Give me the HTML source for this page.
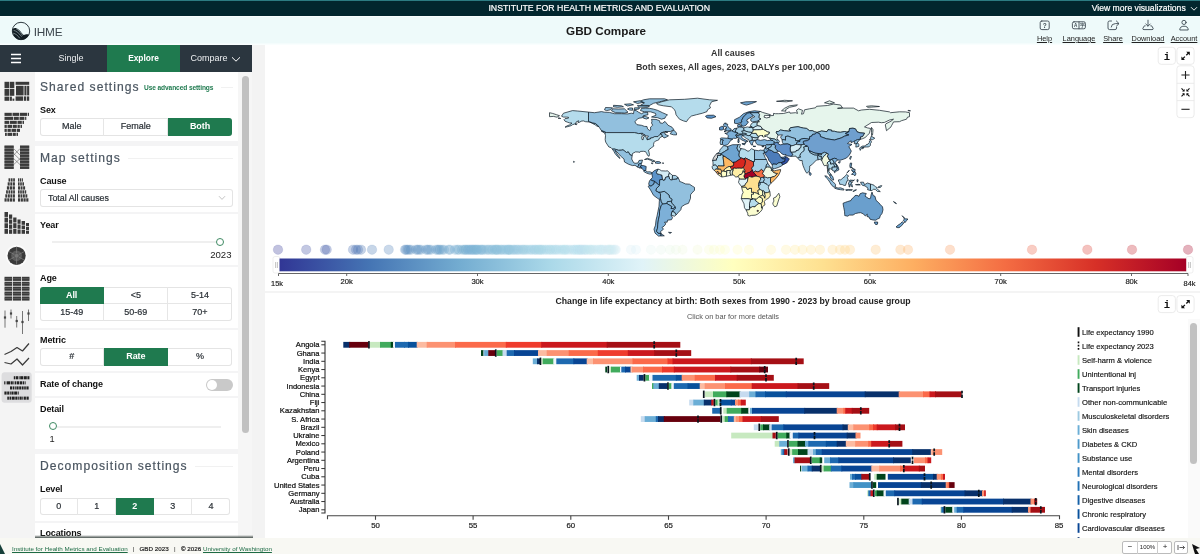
<!DOCTYPE html>
<html lang="en"><head><meta charset="utf-8"><title>GBD Compare</title>
<style>
*{box-sizing:border-box;margin:0;padding:0}
html,body{width:1200px;height:554px;overflow:hidden;background:#fff;font-family:"Liberation Sans",sans-serif;color:#222}
.abs{position:absolute}
#topline{position:absolute;left:0;top:0;width:1200px;height:1px;background:#2c7b82}
#topbar{position:absolute;left:0;top:1px;width:1200px;height:15px;background:#02262e;color:#fff}
#topbar .c{position:absolute;left:0;width:1198.4px;text-align:center;top:2px;font-size:8.77px;line-height:11px;-webkit-text-stroke:0.2px #fff}
#topbar .r{position:absolute;right:14.3px;top:1.5px;font-size:8.6px;line-height:11px;-webkit-text-stroke:0.2px #fff}
#header{position:absolute;left:0;top:16px;width:1200px;height:29px;background:#eefafa;box-shadow:inset 0 1px 0 #f9fefe,inset 0 -1.5px 0 #f9fefe}
#header .title{position:absolute;left:0;width:1212px;text-align:center;top:7px;font-size:11.7px;font-weight:bold;line-height:15px;color:#1a1a1a}
#header .ihme{position:absolute;left:33.7px;top:8.8px;font-size:11.8px;line-height:14px;color:#3c464d;letter-spacing:-0.2px}
.hbtn{position:absolute;top:0;text-align:center;font-size:7.4px;color:#222;text-decoration:underline;line-height:9px}
#nav{position:absolute;left:0;top:45px;width:252px;height:27px;background:#2b363f;color:#fff;font-size:9px}
#nav .tab{position:absolute;top:0;height:27px;line-height:27px;text-align:center}
#icons{position:absolute;left:0;top:72px;width:35px;height:466px;background:#f4f4f4}
#panel{position:absolute;left:35px;top:73px;width:203px;height:464px;background:#fff;overflow:hidden}
#gutter{position:absolute;left:252px;top:45px;width:13px;height:493px;background:#f3f3f3}
#lscroll{position:absolute;left:238px;top:72px;width:14px;height:466px;background:#f6f6f6}
#lscroll i{position:absolute;left:4px;top:4px;width:7px;height:357px;border-radius:4px;background:#c1c1c1}
.sec{position:absolute;left:5px;font-size:12.1px;letter-spacing:1.03px;color:#4a5560;line-height:14px;white-space:nowrap;-webkit-text-stroke:0.2px #4a5560}
.lbl{position:absolute;left:5px;font-size:9px;letter-spacing:-0.12px;font-weight:bold;color:#111;line-height:11px;white-space:nowrap}
.hr{position:absolute;left:0;width:203px;background:#f4f4f5}
.bg{position:absolute;left:5px;border-radius:3px;background:#fff;overflow:hidden;box-shadow:inset 0 0 0 1px #e4e4e4}
.bg span{position:absolute;text-align:center;font-size:9px;color:#2a3036;-webkit-text-stroke:0.2px #2a3036}
.bg i{position:absolute;background:#e6e6e6}
.bg span.on{background:#1f7a4f;color:#fff;font-weight:bold;-webkit-text-stroke:0;z-index:2;letter-spacing:-0.1px}
#footer{position:absolute;left:0;top:538px;width:1200px;height:16px;background:#f8f8f3;font-size:6.3px;color:#222;line-height:16px}
#footer .ft{position:absolute;top:3px;white-space:nowrap;line-height:16px;font-size:6.25px}
#footer .ft.b{-webkit-text-stroke:0.2px #222}
#footer a{color:#1d6b45;text-decoration:underline}
#main{position:absolute;left:265px;top:45px;width:935px;height:493px;background:#fff}
svg text{font-family:"Liberation Sans",sans-serif}
svg text.mono{font-family:"Liberation Mono",monospace}

</style></head><body>

<div id="topline"></div>
<div id="topbar"><div class="c">INSTITUTE FOR HEALTH METRICS AND EVALUATION</div><div class="r">View more visualizations</div>
<svg class="abs" style="left:1190px;top:5px" width="8" height="6" viewBox="0 0 8 6"><path d="M1 1.2 L4 4.2 L7 1.2" fill="none" stroke="#fff" stroke-width="0.9"/></svg></div>
<div id="header">
<svg class="abs" style="left:10.7px;top:5.2px" width="20" height="20" viewBox="0 0 20 20">
<circle cx="10" cy="10" r="8.7" fill="#eefafa" stroke="#1a262d" stroke-width="0.9"/>
<path d="M1.4 8.2 C2.6 7 4.4 6.6 6 7.4 C8.6 8.8 10.4 11.2 12 13.6 C13 14.4 14.6 13.2 16 13.2 C17 13.2 17.8 13.8 18.2 13 C17 16.6 13.8 18.8 10 18.8 C5 18.8 1 14.2 1.4 8.2 Z" fill="#111c22"/>
<path d="M2.6 9.4 C5.4 9.8 8.4 12.6 10.6 15.6 M2.2 12.2 C4.6 12.6 7 14.6 8.8 17.4 M5 7.6 C7.4 9 9.8 11.6 11.6 14.6" stroke="#cfe0e2" stroke-width="0.5" fill="none"/>
</svg>
<div class="ihme">IHME</div>
<div class="title">GBD Compare</div>
<svg class="abs" style="left:1039px;top:4px" width="12" height="11" viewBox="0 0 12 11"><rect x="1.2" y="1" width="9" height="8.6" rx="1.6" fill="none" stroke="#3d4a52" stroke-width="0.9" stroke-linecap="round" stroke-linejoin="round"/><text x="5.7" y="7.6" font-size="6.5" font-weight="bold" text-anchor="middle" fill="#3d4a52">?</text></svg>
<svg class="abs" style="left:1071px;top:4px" width="16" height="11" viewBox="0 0 16 11"><rect x="1.4" y="1.8" width="13" height="7" rx="1.6" fill="none" stroke="#3d4a52" stroke-width="0.9" stroke-linecap="round" stroke-linejoin="round"/><path d="M8 1.8V8.8" fill="none" stroke="#3d4a52" stroke-width="0.9" stroke-linecap="round" stroke-linejoin="round"/><text x="4.7" y="7.4" font-size="4.6" font-weight="bold" text-anchor="middle" fill="#3d4a52">A</text><text x="11.3" y="7.4" font-size="4.6" font-weight="bold" text-anchor="middle" fill="#3d4a52">字</text></svg>
<svg class="abs" style="left:1106px;top:3px" width="15" height="12" viewBox="0 0 15 12"><path d="M5.5 2 H3.6 Q2 2 2 3.6 V9 Q2 10.6 3.6 10.6 H9 Q10.6 10.6 10.6 9 V8.4" fill="none" stroke="#3d4a52" stroke-width="0.9" stroke-linecap="round" stroke-linejoin="round"/><path d="M5.2 8 Q5.4 4.6 9.4 4.6 H12.6 M10.4 2 L13 4.6 L10.4 7.2" fill="none" stroke="#3d4a52" stroke-width="0.9" stroke-linecap="round" stroke-linejoin="round"/></svg>
<svg class="abs" style="left:1141px;top:3px" width="14" height="12" viewBox="0 0 14 12"><path d="M7 1.2 V7 M4.8 5 L7 7.2 L9.2 5" fill="none" stroke="#3d4a52" stroke-width="0.9" stroke-linecap="round" stroke-linejoin="round"/><path d="M4.2 6.8 H3.4 L1.8 9.4 Q1.6 10.6 3 10.6 H11 Q12.4 10.6 12.2 9.4 L10.6 6.8 H9.8" fill="none" stroke="#3d4a52" stroke-width="0.9" stroke-linecap="round" stroke-linejoin="round"/></svg>
<svg class="abs" style="left:1178px;top:3px" width="12" height="12" viewBox="0 0 12 12"><circle cx="6" cy="3.4" r="2.1" fill="none" stroke="#3d4a52" stroke-width="0.9" stroke-linecap="round" stroke-linejoin="round"/><path d="M1.8 10.6 Q1.8 7.2 6 7.2 Q10.2 7.2 10.2 10.6 Z" fill="none" stroke="#3d4a52" stroke-width="0.9" stroke-linecap="round" stroke-linejoin="round"/></svg>
<div class="hbtn" style="left:1030px;width:29px;top:18px">Help</div>
<div class="hbtn" style="left:1059px;width:40px;top:18px">Language</div>
<div class="hbtn" style="left:1098px;width:30px;top:18px">Share</div>
<div class="hbtn" style="left:1128px;width:40px;top:18px">Download</div>
<div class="hbtn" style="left:1168px;width:32px;top:18px">Account</div>
</div>
<div id="nav">
<svg class="abs" style="left:10px;top:8px" width="12" height="11" viewBox="0 0 12 11"><path d="M1 1.5H11M1 5.5H11M1 9.5H11" stroke="#fff" stroke-width="1.3"/></svg>
<div class="tab" style="left:35px;width:72px;color:#eef0f2">Single</div>
<div class="tab" style="left:107px;width:73px;background:#1f7a4f;font-weight:bold;font-size:8.4px">Explore</div>
<div class="tab" style="left:180px;width:58px;color:#eef0f2">Compare</div>
<svg class="abs" style="left:231px;top:11px" width="10" height="7" viewBox="0 0 10 7"><path d="M1 1.3 L5 5.2 L9 1.3" fill="none" stroke="#fff" stroke-width="1"/></svg>
</div>
<div id="gutter"></div>
<div id="footer"><div class="ft" style="left:12px"><a>Institute for Health Metrics and Evaluation</a></div><div class="ft" style="left:132.6px">|</div><div class="ft b" style="left:139.5px">GBD 2023</div><div class="ft" style="left:174px">|</div><div class="ft b" style="left:181px">© 2026</div><div class="ft" style="left:203px"><a>University of Washington</a></div>
<svg class="abs" style="left:0;top:4px" width="9" height="12" viewBox="0 0 9 12"><path d="M0 2 L5 12 H0 Z" fill="#17403a"/></svg>
<div class="abs" style="left:1122px;top:3px;width:50px;height:13px;border:1px solid #bbb;border-radius:2px;background:#fff"></div>
<div class="abs" style="left:1137px;top:3px;width:1px;height:13px;background:#ccc"></div>
<div class="abs" style="left:1157px;top:3px;width:1px;height:13px;background:#ccc"></div>
<div class="abs" style="left:1126px;top:3px;width:8px;text-align:center;line-height:12px;font-size:8px">−</div>
<div class="abs" style="left:1138px;top:3px;width:19px;text-align:center;line-height:13px;font-size:6px">100%</div>
<div class="abs" style="left:1160px;top:3px;width:10px;text-align:center;line-height:12px;font-size:8px">+</div>
<div class="abs" style="left:1174px;top:3px;width:14px;height:13px;border:1px solid #bbb;border-radius:2px;background:#fff"></div>
<svg class="abs" style="left:1177px;top:6px" width="9" height="7" viewBox="0 0 9 7"><path d="M1 1V6M2.5 3.5H7.5M5.8 1.8L7.5 3.5L5.8 5.2" fill="none" stroke="#333" stroke-width="0.8"/></svg>
<svg class="abs" style="left:1191px;top:5px" width="9" height="11" viewBox="0 0 9 11"><path d="M1 1 L9 5 L5 6 L8 11 H4 L3 8 Z" fill="#111"/></svg>
</div>

<div id="icons"></div><svg class="abs" style="left:0;top:0" width="35" height="554" viewBox="0 0 35 554"><rect x="4.50" y="81.80" width="4.60" height="6.20" fill="#3a3a3a"/><rect x="9.70" y="81.80" width="4.60" height="6.20" fill="#3a3a3a"/><rect x="4.50" y="88.80" width="4.60" height="7.00" fill="#3a3a3a"/><rect x="9.70" y="88.80" width="4.60" height="7.00" fill="#3a3a3a"/><rect x="4.50" y="96.60" width="4.60" height="4.20" fill="#3a3a3a"/><rect x="9.70" y="96.60" width="2.20" height="4.20" fill="#3a3a3a"/><rect x="12.50" y="98.60" width="1.80" height="2.20" fill="#3a3a3a"/><rect x="15.60" y="81.80" width="13.60" height="3.00" fill="#3a3a3a"/><rect x="16.00" y="85.80" width="7.60" height="9.60" fill="#3a3a3a"/><rect x="24.40" y="85.80" width="2.10" height="9.60" fill="#3a3a3a"/><rect x="27.10" y="85.80" width="2.10" height="9.60" fill="#3a3a3a"/><rect x="15.60" y="96.40" width="7.60" height="4.40" fill="#3a3a3a"/><rect x="24.00" y="96.40" width="2.20" height="4.40" fill="#3a3a3a"/><rect x="26.90" y="96.40" width="2.30" height="4.40" fill="#3a3a3a"/><rect x="4.50" y="112.80" width="7.30" height="3.10" fill="#3a3a3a"/><rect x="12.50" y="112.80" width="6.80" height="3.10" fill="#3a3a3a"/><rect x="20.00" y="112.80" width="7.30" height="3.10" fill="#3a3a3a"/><rect x="28.00" y="112.80" width="1.00" height="3.10" fill="#3a3a3a"/><rect x="4.50" y="116.80" width="8.80" height="3.10" fill="#3a3a3a"/><rect x="14.00" y="116.80" width="4.80" height="3.10" fill="#3a3a3a"/><rect x="19.50" y="116.80" width="4.90" height="3.10" fill="#3a3a3a"/><rect x="25.10" y="116.80" width="1.20" height="3.10" fill="#3a3a3a"/><rect x="4.50" y="120.80" width="4.80" height="3.10" fill="#3a3a3a"/><rect x="10.00" y="120.80" width="6.80" height="3.10" fill="#3a3a3a"/><rect x="17.50" y="120.80" width="4.30" height="3.10" fill="#3a3a3a"/><rect x="22.50" y="120.80" width="1.50" height="3.10" fill="#3a3a3a"/><rect x="4.50" y="124.80" width="2.30" height="3.10" fill="#3a3a3a"/><rect x="7.50" y="124.80" width="4.80" height="3.10" fill="#3a3a3a"/><rect x="13.00" y="124.80" width="3.80" height="3.10" fill="#3a3a3a"/><rect x="17.50" y="124.80" width="2.30" height="3.10" fill="#3a3a3a"/><rect x="20.50" y="124.80" width="1.50" height="3.10" fill="#3a3a3a"/><rect x="4.50" y="128.80" width="2.30" height="3.10" fill="#3a3a3a"/><rect x="7.50" y="128.80" width="3.30" height="3.10" fill="#3a3a3a"/><rect x="11.50" y="128.80" width="4.80" height="3.10" fill="#3a3a3a"/><rect x="17.00" y="128.80" width="3.00" height="3.10" fill="#3a3a3a"/><rect x="5.00" y="132.80" width="1.80" height="3.10" fill="#3a3a3a"/><rect x="7.50" y="132.80" width="4.80" height="3.10" fill="#3a3a3a"/><rect x="13.00" y="132.80" width="2.80" height="3.10" fill="#3a3a3a"/><rect x="16.50" y="132.80" width="1.50" height="3.10" fill="#3a3a3a"/><rect x="4.50" y="145.60" width="9.20" height="2.30" fill="#3a3a3a"/><rect x="20.00" y="145.60" width="9.20" height="2.30" fill="#3a3a3a"/><rect x="4.50" y="148.60" width="9.20" height="2.30" fill="#3a3a3a"/><rect x="20.00" y="148.60" width="9.20" height="2.30" fill="#3a3a3a"/><rect x="4.50" y="151.60" width="9.20" height="2.30" fill="#3a3a3a"/><rect x="20.00" y="151.60" width="9.20" height="2.30" fill="#3a3a3a"/><rect x="4.50" y="154.60" width="9.20" height="2.30" fill="#3a3a3a"/><rect x="20.00" y="154.60" width="9.20" height="2.30" fill="#3a3a3a"/><rect x="4.50" y="157.60" width="9.20" height="2.30" fill="#3a3a3a"/><rect x="20.00" y="157.60" width="9.20" height="2.30" fill="#3a3a3a"/><rect x="4.50" y="160.60" width="9.20" height="2.30" fill="#3a3a3a"/><rect x="20.00" y="160.60" width="9.20" height="2.30" fill="#3a3a3a"/><rect x="4.50" y="163.60" width="9.20" height="2.30" fill="#3a3a3a"/><rect x="20.00" y="163.60" width="9.20" height="2.30" fill="#3a3a3a"/><rect x="4.50" y="166.60" width="9.20" height="2.30" fill="#3a3a3a"/><rect x="20.00" y="166.60" width="9.20" height="2.30" fill="#3a3a3a"/><rect x="4.50" y="145.60" width="9.20" height="23.30" fill="#3a3a3a88"/><rect x="20.00" y="145.60" width="9.20" height="23.30" fill="#3a3a3a88"/><path d="M13.7 148.6 L20 155.1 M13.7 155.1 L20 148.6 M13.7 158.6 L20 164.6 M13.7 164.6 L20 158.6 M13.7 153.6 L20 159.6" fill="none" stroke="#555" stroke-width="0.55"/><rect x="8.50" y="178.30" width="1.73" height="3.30" fill="#3a3a3a"/><rect x="18.00" y="178.30" width="1.23" height="3.30" fill="#3a3a3a"/><rect x="10.83" y="178.30" width="1.73" height="3.30" fill="#3a3a3a"/><rect x="19.83" y="178.30" width="1.23" height="3.30" fill="#3a3a3a"/><rect x="13.17" y="178.30" width="1.73" height="3.30" fill="#3a3a3a"/><rect x="21.67" y="178.30" width="1.23" height="3.30" fill="#3a3a3a"/><rect x="7.70" y="182.30" width="2.00" height="3.30" fill="#3a3a3a"/><rect x="18.00" y="182.30" width="1.60" height="3.30" fill="#3a3a3a"/><rect x="10.30" y="182.30" width="2.00" height="3.30" fill="#3a3a3a"/><rect x="20.20" y="182.30" width="1.60" height="3.30" fill="#3a3a3a"/><rect x="12.90" y="182.30" width="2.00" height="3.30" fill="#3a3a3a"/><rect x="22.40" y="182.30" width="1.60" height="3.30" fill="#3a3a3a"/><rect x="6.90" y="186.30" width="2.27" height="3.30" fill="#3a3a3a"/><rect x="18.00" y="186.30" width="1.97" height="3.30" fill="#3a3a3a"/><rect x="9.77" y="186.30" width="2.27" height="3.30" fill="#3a3a3a"/><rect x="20.57" y="186.30" width="1.97" height="3.30" fill="#3a3a3a"/><rect x="12.63" y="186.30" width="2.27" height="3.30" fill="#3a3a3a"/><rect x="23.13" y="186.30" width="1.97" height="3.30" fill="#3a3a3a"/><rect x="6.10" y="190.30" width="1.75" height="3.30" fill="#3a3a3a"/><rect x="18.00" y="190.30" width="1.60" height="3.30" fill="#3a3a3a"/><rect x="8.45" y="190.30" width="1.75" height="3.30" fill="#3a3a3a"/><rect x="20.20" y="190.30" width="1.60" height="3.30" fill="#3a3a3a"/><rect x="10.80" y="190.30" width="1.75" height="3.30" fill="#3a3a3a"/><rect x="22.40" y="190.30" width="1.60" height="3.30" fill="#3a3a3a"/><rect x="13.15" y="190.30" width="1.75" height="3.30" fill="#3a3a3a"/><rect x="24.60" y="190.30" width="1.60" height="3.30" fill="#3a3a3a"/><rect x="5.30" y="194.30" width="1.95" height="3.30" fill="#3a3a3a"/><rect x="18.00" y="194.30" width="1.88" height="3.30" fill="#3a3a3a"/><rect x="7.85" y="194.30" width="1.95" height="3.30" fill="#3a3a3a"/><rect x="20.48" y="194.30" width="1.88" height="3.30" fill="#3a3a3a"/><rect x="10.40" y="194.30" width="1.95" height="3.30" fill="#3a3a3a"/><rect x="22.95" y="194.30" width="1.88" height="3.30" fill="#3a3a3a"/><rect x="12.95" y="194.30" width="1.95" height="3.30" fill="#3a3a3a"/><rect x="25.43" y="194.30" width="1.88" height="3.30" fill="#3a3a3a"/><rect x="4.50" y="198.30" width="2.15" height="3.30" fill="#3a3a3a"/><rect x="18.00" y="198.30" width="2.15" height="3.30" fill="#3a3a3a"/><rect x="7.25" y="198.30" width="2.15" height="3.30" fill="#3a3a3a"/><rect x="20.75" y="198.30" width="2.15" height="3.30" fill="#3a3a3a"/><rect x="10.00" y="198.30" width="2.15" height="3.30" fill="#3a3a3a"/><rect x="23.50" y="198.30" width="2.15" height="3.30" fill="#3a3a3a"/><rect x="12.75" y="198.30" width="2.15" height="3.30" fill="#3a3a3a"/><rect x="26.25" y="198.30" width="2.15" height="3.30" fill="#3a3a3a"/><rect x="4.50" y="212.00" width="3.50" height="4.92" fill="#3a3a3a"/><rect x="4.50" y="217.62" width="3.50" height="4.92" fill="#3a3a3a"/><rect x="4.50" y="223.25" width="3.50" height="4.92" fill="#3a3a3a"/><rect x="4.50" y="228.88" width="3.50" height="4.92" fill="#3a3a3a"/><rect x="9.00" y="214.50" width="3.20" height="4.30" fill="#3a3a3a"/><rect x="9.00" y="219.50" width="3.20" height="4.30" fill="#3a3a3a"/><rect x="9.00" y="224.50" width="3.20" height="4.30" fill="#3a3a3a"/><rect x="9.00" y="229.50" width="3.20" height="4.30" fill="#3a3a3a"/><rect x="13.20" y="217.50" width="3.30" height="4.97" fill="#3a3a3a"/><rect x="13.20" y="223.17" width="3.30" height="4.97" fill="#3a3a3a"/><rect x="13.20" y="228.83" width="3.30" height="4.97" fill="#3a3a3a"/><rect x="17.50" y="219.50" width="3.10" height="4.30" fill="#3a3a3a"/><rect x="17.50" y="224.50" width="3.10" height="4.30" fill="#3a3a3a"/><rect x="17.50" y="229.50" width="3.10" height="4.30" fill="#3a3a3a"/><rect x="21.60" y="221.00" width="3.40" height="3.80" fill="#3a3a3a"/><rect x="21.60" y="225.50" width="3.40" height="3.80" fill="#3a3a3a"/><rect x="21.60" y="230.00" width="3.40" height="3.80" fill="#3a3a3a"/><rect x="26.00" y="223.00" width="3.00" height="3.13" fill="#3a3a3a"/><rect x="26.00" y="226.83" width="3.00" height="3.13" fill="#3a3a3a"/><rect x="26.00" y="230.67" width="3.00" height="3.13" fill="#3a3a3a"/><circle cx="16.6" cy="255.8" r="10.9" fill="#fbfbfb"/><circle cx="16.6" cy="255.8" r="9.1" fill="#3a3a3a"/><circle cx="16.6" cy="255.8" r="5.4" fill="#5c5c5c"/><circle cx="16.6" cy="255.8" r="2.4" fill="#777" stroke="#444" stroke-width="0.5"/><path d="M16.6 246.7V253.4M18.7 254.6L24.6 251.4M18.7 257L24.5 260.2M16.6 258.2V264.9M14.5 257L8.7 260.2M14.5 254.6L8.7 251.4" stroke="#8a8a8a" stroke-width="0.6" fill="none"/><rect x="4.50" y="276.80" width="7.70" height="4.10" fill="#3a3a3a"/><rect x="4.50" y="278.60" width="7.70" height="0.50" fill="#777"/><rect x="13.00" y="276.80" width="8.20" height="4.10" fill="#3a3a3a"/><rect x="13.00" y="278.60" width="8.20" height="0.50" fill="#777"/><rect x="22.00" y="276.80" width="7.50" height="4.10" fill="#3a3a3a"/><rect x="22.00" y="278.60" width="7.50" height="0.50" fill="#777"/><rect x="4.50" y="281.72" width="7.70" height="4.10" fill="#3a3a3a"/><rect x="4.50" y="283.52" width="7.70" height="0.50" fill="#777"/><rect x="13.00" y="281.72" width="8.20" height="4.10" fill="#3a3a3a"/><rect x="13.00" y="283.52" width="8.20" height="0.50" fill="#777"/><rect x="22.00" y="281.72" width="7.50" height="4.10" fill="#3a3a3a"/><rect x="22.00" y="283.52" width="7.50" height="0.50" fill="#777"/><rect x="4.50" y="286.64" width="7.70" height="4.10" fill="#3a3a3a"/><rect x="4.50" y="288.44" width="7.70" height="0.50" fill="#777"/><rect x="13.00" y="286.64" width="8.20" height="4.10" fill="#3a3a3a"/><rect x="13.00" y="288.44" width="8.20" height="0.50" fill="#777"/><rect x="22.00" y="286.64" width="7.50" height="4.10" fill="#3a3a3a"/><rect x="22.00" y="288.44" width="7.50" height="0.50" fill="#777"/><rect x="4.50" y="291.56" width="7.70" height="4.10" fill="#3a3a3a"/><rect x="4.50" y="293.36" width="7.70" height="0.50" fill="#777"/><rect x="13.00" y="291.56" width="8.20" height="4.10" fill="#3a3a3a"/><rect x="13.00" y="293.36" width="8.20" height="0.50" fill="#777"/><rect x="22.00" y="291.56" width="7.50" height="4.10" fill="#3a3a3a"/><rect x="22.00" y="293.36" width="7.50" height="0.50" fill="#777"/><rect x="4.50" y="296.48" width="7.70" height="4.10" fill="#3a3a3a"/><rect x="4.50" y="298.28" width="7.70" height="0.50" fill="#777"/><rect x="13.00" y="296.48" width="8.20" height="4.10" fill="#3a3a3a"/><rect x="13.00" y="298.28" width="8.20" height="0.50" fill="#777"/><rect x="22.00" y="296.48" width="7.50" height="4.10" fill="#3a3a3a"/><rect x="22.00" y="298.28" width="7.50" height="0.50" fill="#777"/><path d="M5 310.5V327.7M11 309.5V318.5M16.7 316V327.5M22.5 311V334M28.5 309.5V321" stroke="#555" stroke-width="0.8"/><rect x="3.90" y="316.40" width="2.20" height="2.20" fill="#444"/><rect x="9.90" y="312.40" width="2.20" height="2.20" fill="#444"/><rect x="15.60" y="319.90" width="2.20" height="2.20" fill="#444"/><rect x="21.40" y="320.90" width="2.20" height="2.20" fill="#444"/><rect x="27.40" y="312.40" width="2.20" height="2.20" fill="#444"/><path d="M4.5 354.5L11 351.5L17 347.5L22.5 351L29 343.5" stroke="#3a3a3a" stroke-width="1.2" fill="none" stroke-linejoin="round"/><path d="M4.5 362.5L11 364L17 359L22.5 365L29 358" stroke="#3a3a3a" stroke-width="1.2" fill="none" stroke-linejoin="round"/><rect x="1.6" y="372.3" width="30.1" height="30.5" rx="3" fill="#dddddf"/><rect x="13.80" y="376.20" width="1.60" height="3.10" fill="#222"/><rect x="16.00" y="376.20" width="2.20" height="3.10" fill="#222"/><rect x="18.80" y="376.20" width="0.80" height="3.10" fill="#222"/><rect x="20.20" y="376.20" width="3.00" height="3.10" fill="#222"/><rect x="23.80" y="376.20" width="3.00" height="3.10" fill="#222"/><rect x="27.40" y="376.20" width="1.60" height="3.10" fill="#222"/><rect x="29.60" y="376.20" width="0.40" height="3.10" fill="#222"/><rect x="4.20" y="381.30" width="0.80" height="3.10" fill="#222"/><rect x="5.60" y="381.30" width="0.80" height="3.10" fill="#222"/><rect x="7.00" y="381.30" width="3.00" height="3.10" fill="#222"/><rect x="10.60" y="381.30" width="2.20" height="3.10" fill="#222"/><rect x="13.40" y="381.30" width="0.80" height="3.10" fill="#222"/><rect x="14.80" y="381.30" width="1.60" height="3.10" fill="#222"/><rect x="17.00" y="381.30" width="2.20" height="3.10" fill="#222"/><rect x="19.80" y="381.30" width="2.20" height="3.10" fill="#222"/><rect x="22.60" y="381.30" width="1.60" height="3.10" fill="#222"/><rect x="24.80" y="381.30" width="0.80" height="3.10" fill="#222"/><rect x="10.00" y="386.40" width="2.20" height="3.10" fill="#222"/><rect x="12.80" y="386.40" width="1.60" height="3.10" fill="#222"/><rect x="15.00" y="386.40" width="0.80" height="3.10" fill="#222"/><rect x="16.40" y="386.40" width="2.20" height="3.10" fill="#222"/><rect x="19.20" y="386.40" width="2.20" height="3.10" fill="#222"/><rect x="22.00" y="386.40" width="1.60" height="3.10" fill="#222"/><rect x="24.20" y="386.40" width="1.60" height="3.10" fill="#222"/><rect x="26.40" y="386.40" width="2.20" height="3.10" fill="#222"/><rect x="4.40" y="391.50" width="2.20" height="3.10" fill="#222"/><rect x="7.20" y="391.50" width="2.20" height="3.10" fill="#222"/><rect x="10.00" y="391.50" width="0.80" height="3.10" fill="#222"/><rect x="11.40" y="391.50" width="2.20" height="3.10" fill="#222"/><rect x="14.20" y="391.50" width="3.00" height="3.10" fill="#222"/><rect x="17.80" y="391.50" width="0.90" height="3.10" fill="#222"/><rect x="7.30" y="396.60" width="1.60" height="3.10" fill="#222"/><rect x="9.50" y="396.60" width="1.60" height="3.10" fill="#222"/><rect x="11.70" y="396.60" width="3.00" height="3.10" fill="#222"/><rect x="15.30" y="396.60" width="2.20" height="3.10" fill="#222"/><rect x="18.10" y="396.60" width="0.80" height="3.10" fill="#222"/><rect x="19.50" y="396.60" width="2.20" height="3.10" fill="#222"/><rect x="22.30" y="396.60" width="0.80" height="3.10" fill="#222"/><rect x="23.70" y="396.60" width="2.20" height="3.10" fill="#222"/><rect x="26.50" y="396.60" width="2.20" height="3.10" fill="#222"/></svg><div id="lscroll"><i></i></div><div id="panel"><div class="sec" style="top:7px">Shared settings</div><div class="abs" style="left:109px;top:10px;font-size:6.6px;font-weight:bold;color:#1f7a4f;line-height:9px;white-space:nowrap;letter-spacing:-0.1px">Use advanced settings</div><div class="abs" style="left:186px;top:14px;width:12px;height:1px;background:#f1f1f1"></div><div class="lbl" style="top:31.5px">Sex</div><div class="bg" style="top:45px;left:4.6px;width:192.5px;height:17.5px"><span style="left:0.00px;top:0.00px;width:64.17px;height:17.50px;line-height:17.50px">Male</span><span style="left:64.17px;top:0.00px;width:64.17px;height:17.50px;line-height:17.50px">Female</span><span class="on" style="left:128.33px;top:0.00px;width:64.17px;height:17.50px;line-height:17.50px">Both</span><i style="left:63.67px;top:0;width:1px;height:17.5px"></i><i style="left:127.83px;top:0;width:1px;height:17.5px"></i></div><div class="hr" style="top:68px;height:5px"></div><div class="sec" style="top:78px">Map settings</div><div class="abs" style="left:93px;top:85px;width:105px;height:1px;background:#f1f1f1"></div><div class="lbl" style="top:103px">Cause</div><div class="bg" style="top:116px;width:193px;height:18px"></div><div class="abs" style="left:13px;top:119px;font-size:8.85px;line-height:12px;color:#2a3036;-webkit-text-stroke:0.2px #2a3036">Total All causes</div><svg class="abs" style="left:183px;top:122px" width="8" height="6" viewBox="0 0 8 6"><path d="M1 1.2L4 4.4L7 1.2" fill="none" stroke="#b5b5b5" stroke-width="0.8"/></svg><div class="hr" style="top:139px;height:2px"></div><div class="lbl" style="top:146.5px">Year</div><div class="abs" style="left:17px;top:168px;width:164px;height:2px;background:#efefef"></div><div class="abs" style="left:181px;top:164.5px;width:8px;height:8px;border:1.2px solid #3f8a63;border-radius:50%;background:#fff"></div><div class="abs" style="left:150px;width:46.5px;text-align:right;top:175.5px;font-size:9.6px;line-height:12px">2023</div><div class="hr" style="top:192px;height:2px"></div><div class="lbl" style="top:199.5px">Age</div><div class="bg" style="top:213.60000000000002px;left:4.6px;width:192.5px;height:34.4px"><span class="on" style="left:0.00px;top:0.00px;width:64.17px;height:17.20px;line-height:17.20px">All</span><span style="left:64.17px;top:0.00px;width:64.17px;height:17.20px;line-height:17.20px">&lt;5</span><span style="left:128.33px;top:0.00px;width:64.17px;height:17.20px;line-height:17.20px">5-14</span><span style="left:0.00px;top:17.20px;width:64.17px;height:17.20px;line-height:17.20px">15-49</span><span style="left:64.17px;top:17.20px;width:64.17px;height:17.20px;line-height:17.20px">50-69</span><span style="left:128.33px;top:17.20px;width:64.17px;height:17.20px;line-height:17.20px">70+</span><i style="left:63.67px;top:0;width:1px;height:34.4px"></i><i style="left:127.83px;top:0;width:1px;height:34.4px"></i><i style="left:0;top:16.70px;width:192.5px;height:1px"></i></div><div class="hr" style="top:255px;height:2px"></div><div class="lbl" style="top:262px">Metric</div><div class="bg" style="top:275.4px;left:4.6px;width:192.5px;height:17.6px"><span style="left:0.00px;top:0.00px;width:64.17px;height:17.60px;line-height:17.60px">#</span><span class="on" style="left:64.17px;top:0.00px;width:64.17px;height:17.60px;line-height:17.60px">Rate</span><span style="left:128.33px;top:0.00px;width:64.17px;height:17.60px;line-height:17.60px">%</span><i style="left:63.67px;top:0;width:1px;height:17.6px"></i><i style="left:127.83px;top:0;width:1px;height:17.6px"></i></div><div class="hr" style="top:298px;height:2px"></div><div class="lbl" style="top:306px">Rate of change</div><div class="abs" style="left:170.5px;top:305.5px;width:27.5px;height:12.5px;border-radius:7px;background:#c9c9c9"></div><div class="abs" style="left:171.5px;top:306.5px;width:10.5px;height:10.5px;border-radius:50%;background:#fff"></div><div class="hr" style="top:323px;height:2px"></div><div class="lbl" style="top:330.5px">Detail</div><div class="abs" style="left:22px;top:352.5px;width:164px;height:2px;background:#efefef"></div><div class="abs" style="left:13.5px;top:349px;width:8px;height:8px;border:1.2px solid #3f8a63;border-radius:50%;background:#fff"></div><div class="abs" style="left:14.5px;top:360px;font-size:9.3px;line-height:12px">1</div><div class="hr" style="top:376px;height:5px"></div><div class="sec" style="top:386px">Decomposition settings</div><div class="abs" style="left:160px;top:393px;width:38px;height:1px;background:#f1f1f1"></div><div class="lbl" style="top:410.5px">Level</div><div class="bg" style="top:424.6px;left:4.6px;width:190.4px;height:17.1px"><span style="left:0.00px;top:0.00px;width:38.08px;height:17.10px;line-height:17.10px">0</span><span style="left:38.08px;top:0.00px;width:38.08px;height:17.10px;line-height:17.10px">1</span><span class="on" style="left:76.16px;top:0.00px;width:38.08px;height:17.10px;line-height:17.10px">2</span><span style="left:114.24px;top:0.00px;width:38.08px;height:17.10px;line-height:17.10px">3</span><span style="left:152.32px;top:0.00px;width:38.08px;height:17.10px;line-height:17.10px">4</span><i style="left:37.58px;top:0;width:1px;height:17.1px"></i><i style="left:75.66px;top:0;width:1px;height:17.1px"></i><i style="left:113.74px;top:0;width:1px;height:17.1px"></i><i style="left:151.82px;top:0;width:1px;height:17.1px"></i></div><div class="hr" style="top:447.5px;height:2px"></div><div class="lbl" style="top:454.5px">Locations</div></div><div class="abs" style="left:35px;top:535px;width:217.5px;height:3px;background:linear-gradient(rgba(60,70,66,0),rgba(60,70,66,0.55) 55%,#4a5551)"></div>
<div id="main">
<svg class="abs" style="left:0;top:0" width="935" height="247" viewBox="265 45 935 247">
<defs><linearGradient id="rybu" x1="0" x2="1" y1="0" y2="0"><stop offset="0%" stop-color="#313695"/><stop offset="10%" stop-color="#4575b4"/><stop offset="20%" stop-color="#74add1"/><stop offset="30%" stop-color="#abd9e9"/><stop offset="40%" stop-color="#e0f3f8"/><stop offset="50%" stop-color="#ffffbf"/><stop offset="60%" stop-color="#fee090"/><stop offset="70%" stop-color="#fdae61"/><stop offset="80%" stop-color="#f46d43"/><stop offset="90%" stop-color="#d73027"/><stop offset="100%" stop-color="#a50026"/></linearGradient></defs>
<text x="733" y="56.4" font-size="8.85" font-weight="bold" text-anchor="middle" fill="#333">All causes</text>
<text x="733" y="70.1" font-size="8.85" font-weight="bold" text-anchor="middle" fill="#333">Both sexes, All ages, 2023, DALYs per 100,000</text>
<g stroke="#04101a" stroke-width="0.68" stroke-linejoin="round">
<path d="M561.5 116.2 L563.5 113.2 L572.5 110.6 L577.5 111.0 L588.5 112.1 L588.5 121.4 L592.5 122.8 L595.5 123.5 L599.0 126.7 L597.0 126.2 L595.0 124.7 L592.5 123.5 L589.5 122.0 L585.5 121.7 L583.5 120.9 L581.0 121.2 L580.0 122.1 L578.0 122.5 L578.5 120.7 L576.0 122.2 L575.5 123.7 L572.5 124.7 L571.0 125.7 L567.5 126.7 L565.0 127.2 L567.0 125.9 L569.5 124.9 L572.0 123.1 L569.5 122.9 L567.5 122.2 L565.0 121.2 L564.0 119.7 L565.0 118.7 L568.5 118.1 L568.5 117.3 L566.5 117.1 L563.5 117.1 L561.5 116.2Z" fill="#b5dcec"/>
<path d="M558.0 118.2 L560.7 118.5 L559.5 118.0Z" fill="#b5dcec"/>
<path d="M575.0 124.2 L577.2 123.7 L576.5 124.7Z" fill="#b5dcec"/>
<path d="M588.5 112.1 L594.5 112.7 L601.5 111.6 L604.5 112.2 L609.5 112.4 L614.5 113.7 L621.5 113.7 L627.5 113.9 L631.5 113.2 L633.5 113.7 L634.0 110.0 L636.5 110.8 L638.5 112.2 L641.5 113.7 L644.5 112.2 L647.5 112.2 L648.0 114.7 L643.5 115.7 L642.5 117.7 L639.0 118.2 L637.5 118.9 L635.0 121.7 L635.5 123.0 L637.0 124.7 L641.5 125.3 L644.5 126.4 L647.0 126.5 L647.5 128.8 L649.5 130.4 L650.7 129.9 L650.5 127.2 L652.7 125.2 L651.5 123.0 L652.0 121.2 L651.5 119.3 L656.0 119.4 L659.5 120.7 L660.0 122.9 L662.5 123.3 L665.0 121.4 L668.0 125.2 L672.0 127.2 L673.8 129.5 L670.5 131.5 L664.5 131.5 L662.5 132.4 L660.0 133.8 L661.5 132.8 L665.0 132.6 L665.0 134.3 L668.5 135.8 L666.5 137.0 L664.0 138.0 L663.0 136.6 L662.1 136.4 L661.7 134.6 L660.3 134.2 L658.0 136.6 L654.7 136.6 L653.0 137.6 L650.5 138.1 L650.5 138.9 L647.0 139.8 L647.2 137.8 L648.5 136.1 L646.5 135.8 L645.0 135.2 L642.5 133.4 L641.0 133.4 L638.5 133.6 L634.5 132.6 L606.3 132.6 L604.5 131.7 L601.5 130.7 L599.5 127.7 L599.0 126.7 L595.5 123.5 L592.5 122.8 L588.5 121.4Z" fill="#92c0de"/>
<path d="M649.5 108.3 L653.5 109.1 L657.5 110.3 L662.5 112.7 L667.5 114.9 L665.5 116.7 L665.0 118.2 L661.5 119.2 L657.5 117.7 L651.5 117.0 L656.0 115.2 L655.5 113.4 L650.5 111.8 L644.5 111.8 L640.5 110.6 L641.5 108.3 L645.5 108.1 L649.5 108.3Z" fill="#92c0de"/>
<path d="M612.5 108.8 L618.5 109.0 L624.5 108.8 L628.0 112.2 L624.5 113.1 L621.5 112.9 L615.5 112.7 L611.5 110.8 L612.5 108.8Z" fill="#92c0de"/>
<path d="M639.5 101.3 L643.5 99.8 L649.5 98.8 L664.5 98.8 L667.5 99.8 L659.5 101.8 L653.5 103.3 L649.5 105.5 L640.5 105.3 L644.5 102.8 L639.5 101.3Z" fill="#92c0de"/>
<path d="M604.5 109.8 L605.5 107.5 L612.5 107.8 L610.5 109.8 L606.5 110.6Z" fill="#92c0de"/>
<path d="M637.5 105.3 L649.5 106.2 L647.5 107.3 L638.5 107.1Z" fill="#92c0de"/>
<path d="M613.5 106.8 L613.5 105.3 L621.5 105.8 L623.5 106.8 L617.5 107.3Z" fill="#92c0de"/>
<path d="M629.5 108.0 L632.5 108.0 L632.5 110.3 L629.5 110.0 L627.5 109.0Z" fill="#92c0de"/>
<path d="M634.5 107.8 L639.5 107.8 L639.0 109.0 L634.0 109.8Z" fill="#92c0de"/>
<path d="M633.5 101.8 L639.5 100.8 L643.5 102.3 L637.5 103.5 L633.5 101.8Z" fill="#92c0de"/>
<path d="M624.5 104.3 L630.5 103.8 L633.5 104.8 L627.5 106.0Z" fill="#92c0de"/>
<path d="M643.0 116.2 L645.5 116.4 L649.0 117.9 L646.5 119.0 L643.5 118.2Z" fill="#92c0de"/>
<path d="M670.2 133.8 L672.5 130.7 L674.0 130.2 L676.5 133.1 L676.5 134.9 L673.5 134.8 L670.2 133.8Z" fill="#92c0de"/>
<path d="M601.2 130.9 L604.5 131.7 L606.0 133.2 L604.0 132.8Z" fill="#92c0de"/>
<path d="M665.0 131.7 L667.7 132.4 L666.5 132.5Z" fill="#92c0de"/>
<path d="M606.3 132.6 L634.5 132.6 L638.5 133.6 L641.0 133.4 L642.5 133.4 L641.5 134.8 L644.7 135.0 L641.7 136.6 L642.0 139.6 L643.2 139.6 L643.5 137.1 L645.0 135.9 L646.0 136.6 L646.0 137.8 L647.0 138.6 L647.0 139.8 L650.5 138.9 L650.5 138.1 L653.0 137.6 L654.7 136.6 L658.0 136.6 L660.3 134.2 L661.7 134.6 L662.1 136.4 L659.5 137.9 L658.8 139.8 L657.5 140.4 L655.5 141.0 L654.0 142.6 L653.5 144.6 L653.8 146.1 L651.5 147.7 L648.5 150.1 L649.5 154.5 L649.0 156.3 L647.7 155.5 L646.7 153.5 L645.5 151.6 L643.5 151.3 L640.5 151.4 L640.0 152.3 L638.0 152.0 L635.5 151.9 L632.5 153.5 L632.2 155.5 L630.2 155.0 L628.3 151.9 L626.5 152.5 L624.7 151.1 L623.0 149.8 L621.3 150.2 L618.5 150.3 L614.7 149.1 L612.4 149.1 L611.0 147.6 L608.9 147.0 L607.5 144.9 L605.7 142.1 L605.2 139.6 L605.5 135.4 L604.8 133.2 L606.3 132.6Z" fill="#b5dcec"/>
<path d="M573.5 161.3 L574.5 161.7 L573.8 162.5Z" fill="#b5dcec"/>
<path d="M612.4 149.1 L614.7 149.1 L618.5 150.3 L621.3 150.2 L623.0 149.8 L624.7 151.1 L626.5 152.5 L628.3 151.9 L630.2 155.0 L632.2 155.5 L631.7 159.0 L633.5 162.5 L635.0 163.3 L638.0 163.0 L639.0 160.5 L642.5 160.0 L641.7 163.2 L640.3 163.6 L638.5 164.3 L639.0 165.4 L637.3 166.9 L635.0 165.3 L632.5 165.6 L628.5 164.2 L624.5 162.0 L624.0 159.0 L620.5 156.0 L617.0 152.0 L614.8 150.1 L617.0 154.0 L619.5 157.3 L620.0 158.5 L617.5 156.5 L615.0 153.5 L614.0 151.6 L612.4 149.1Z" fill="#92c0de"/>
<path d="M637.3 166.9 L639.0 165.4 L638.5 164.3 L640.3 163.6 L641.2 163.1 L641.2 165.5 L640.3 167.1 L639.5 167.8 L637.3 166.9Z" fill="#7db0d8"/>
<path d="M639.5 167.8 L640.3 167.1 L641.8 167.7 L641.7 168.3Z" fill="#b5dcec"/>
<path d="M640.3 167.1 L641.2 165.5 L643.5 165.6 L646.2 166.5 L645.8 170.5 L643.8 170.5 L642.0 168.5 L641.8 167.7Z" fill="#5b93c9"/>
<path d="M645.8 170.5 L646.9 171.9 L650.0 171.8 L652.1 172.7 L651.5 174.1 L649.5 174.1 L646.5 173.1 L643.8 171.5 L643.8 170.5Z" fill="#92c0de"/>
<path d="M644.5 159.5 L647.5 158.3 L652.5 160.0 L655.3 161.3 L652.0 161.6 L651.5 160.5 L647.5 159.2 L644.5 159.5Z" fill="#b5dcec"/>
<path d="M655.0 163.0 L656.5 161.5 L659.5 161.7 L661.1 162.9 L658.5 163.5 L655.0 163.0Z" fill="#7db0d8"/>
<path d="M651.2 163.1 L653.2 163.1 L652.5 163.7Z" fill="#a5cfe6"/>
<path d="M662.3 163.0 L663.8 163.1 L663.0 163.6Z" fill="#a5cfe6"/>
<path d="M656.5 103.6 L661.5 101.8 L669.5 99.8 L684.5 99.3 L697.5 98.2 L709.5 99.8 L717.5 100.3 L711.5 101.8 L709.5 105.8 L710.5 107.8 L707.5 109.8 L707.0 111.6 L702.5 113.2 L696.5 114.7 L691.5 116.0 L688.5 118.7 L686.5 121.7 L683.5 120.9 L679.5 119.2 L677.5 116.7 L676.0 114.7 L675.5 111.8 L674.5 109.8 L671.5 106.8 L663.5 105.8 L658.5 104.8 L656.5 103.6Z" fill="#b5dcec"/>
<path d="M705.5 116.2 L707.5 115.3 L713.5 115.2 L716.0 116.7 L711.5 118.3 L707.0 117.9 L705.5 116.2Z" fill="#5b93c9"/>
<path d="M652.1 172.7 L654.5 170.5 L658.0 169.1 L657.5 170.5 L656.5 172.4 L657.2 173.9 L659.5 174.4 L662.0 175.2 L662.5 179.4 L659.7 179.9 L659.5 185.6 L657.5 183.9 L654.5 181.4 L652.0 180.6 L650.5 179.7 L652.5 177.4 L652.0 174.4 L652.1 172.7Z" fill="#5b93c9"/>
<path d="M658.0 169.1 L659.5 169.5 L661.5 170.8 L665.5 171.0 L667.7 170.8 L669.5 172.9 L668.5 175.4 L668.8 176.4 L665.5 177.4 L665.0 179.9 L663.0 180.4 L662.5 179.4 L662.0 175.2 L659.5 174.4 L657.2 173.9 L656.5 172.4 L657.5 170.5 L658.0 169.1Z" fill="#d5edf5"/>
<path d="M669.5 172.9 L672.5 175.4 L672.3 179.4 L671.0 180.1 L669.5 178.9 L668.8 176.4 L668.5 175.4 L669.5 172.9Z" fill="#d5edf5"/>
<path d="M672.5 175.4 L675.5 175.5 L677.8 177.2 L677.0 179.1 L673.5 179.4 L672.3 179.4Z" fill="#a5cfe6"/>
<path d="M650.5 179.7 L652.0 180.6 L654.5 181.4 L654.0 183.9 L651.0 186.2 L649.2 185.7 L648.7 183.7 L649.5 180.9 L650.5 179.7Z" fill="#6ea4d1"/>
<path d="M649.2 185.7 L651.0 186.2 L654.0 183.9 L654.5 181.4 L657.5 183.9 L659.5 185.6 L656.5 188.4 L656.0 190.9 L659.0 192.3 L660.5 193.8 L660.5 196.8 L659.5 199.6 L657.5 198.3 L653.5 195.3 L650.5 189.9 L648.2 186.4 L649.2 185.7Z" fill="#7db0d8"/>
<path d="M663.0 180.4 L665.0 179.9 L665.5 177.4 L668.8 176.4 L669.5 178.9 L671.0 180.1 L673.5 179.4 L677.0 179.1 L677.8 177.2 L679.5 180.4 L679.5 181.4 L681.5 182.1 L685.5 183.9 L689.5 184.2 L692.5 186.2 L694.5 187.4 L694.5 190.4 L692.0 192.8 L690.5 194.8 L690.5 198.3 L688.5 203.3 L685.0 204.5 L681.5 206.8 L680.8 209.8 L678.5 212.2 L676.1 214.9 L674.5 212.2 L671.9 211.4 L675.5 208.3 L674.9 206.8 L674.0 205.3 L671.7 203.3 L671.5 201.3 L672.0 199.3 L669.5 197.5 L669.0 195.0 L664.2 191.3 L661.0 192.3 L659.0 192.3 L656.0 190.9 L656.5 188.4 L659.5 185.6 L659.7 179.9 L662.5 179.4 L663.0 180.4Z" fill="#92c0de"/>
<path d="M660.5 193.8 L659.0 192.3 L661.0 192.3 L664.2 191.3 L669.0 195.0 L669.5 197.5 L672.0 199.3 L671.5 201.3 L667.5 201.6 L666.8 203.5 L662.5 204.1 L661.0 201.3 L660.5 198.8 L660.5 196.8 L660.5 193.8Z" fill="#92c0de"/>
<path d="M667.5 201.6 L671.5 201.3 L671.7 203.3 L674.0 205.3 L674.9 206.8 L673.5 208.6 L670.9 208.5 L671.9 206.6 L666.8 203.5 L667.5 201.6Z" fill="#92c0de"/>
<path d="M671.9 211.4 L674.5 212.2 L676.1 214.9 L674.5 216.2 L671.1 215.2 L671.9 211.4Z" fill="#b5dcec"/>
<path d="M659.5 199.6 L660.5 198.8 L661.0 201.3 L662.5 204.1 L661.1 205.8 L659.5 211.2 L659.5 215.2 L658.5 219.2 L657.8 224.2 L657.5 228.2 L656.5 231.2 L658.0 233.1 L661.1 233.5 L660.9 235.9 L658.5 236.1 L655.0 233.1 L654.0 229.2 L655.5 225.2 L656.0 220.2 L657.0 216.2 L658.0 211.2 L659.0 206.3 L659.3 201.3 L659.5 199.6Z" fill="#7db0d8"/>
<path d="M662.5 204.1 L666.8 203.5 L671.9 206.6 L670.9 208.5 L673.5 208.6 L674.9 206.8 L675.5 208.3 L671.9 211.4 L671.1 215.2 L672.5 217.7 L671.5 219.7 L667.5 220.2 L667.2 222.2 L664.5 222.2 L665.8 223.9 L664.0 226.2 L662.0 227.5 L663.5 229.2 L660.5 231.6 L661.1 233.5 L658.0 233.1 L656.5 231.2 L657.5 228.2 L657.8 224.2 L658.5 219.2 L659.5 215.2 L659.5 211.2 L661.1 205.8 L662.5 204.1Z" fill="#7db0d8"/>
<path d="M660.9 233.7 L664.3 235.8 L660.9 236.0Z" fill="#7db0d8"/>
<path d="M668.5 232.3 L671.5 232.5 L670.0 233.4Z" fill="#a5cfe6"/>
<path d="M734.5 123.2 L734.5 119.7 L739.5 117.2 L743.5 113.7 L748.5 111.8 L754.5 110.7 L760.5 111.5 L758.0 112.7 L755.0 112.7 L750.0 112.7 L747.5 113.2 L744.5 115.7 L743.0 117.7 L741.5 120.7 L742.0 121.9 L740.5 122.7 L737.0 123.7 L734.5 123.2Z" fill="#6ea4d1"/>
<path d="M740.5 122.7 L742.0 121.9 L741.5 120.7 L743.0 117.7 L744.5 115.7 L747.5 113.2 L750.0 112.7 L753.5 115.7 L751.0 117.2 L747.0 119.7 L746.8 121.2 L748.5 121.9 L746.0 125.2 L743.8 126.2 L742.3 126.2 L740.8 123.7 L740.5 122.7Z" fill="#6ea4d1"/>
<path d="M750.0 112.7 L755.0 112.7 L758.0 112.7 L759.5 114.2 L759.0 117.7 L761.0 118.9 L757.5 121.2 L752.5 121.8 L750.8 120.9 L750.8 118.7 L754.8 116.7 L753.5 115.7 L750.0 112.7Z" fill="#92c0de"/>
<path d="M740.5 102.8 L745.5 101.8 L756.5 101.6 L751.5 103.6 L746.5 105.1 L743.5 104.3 L740.5 102.8Z" fill="#6ea4d1"/>
<path d="M737.7 126.7 L737.7 124.7 L740.0 124.0 L740.3 125.7 L742.0 125.7 L741.5 126.9 L739.0 126.9 L737.7 126.7Z" fill="#7db0d8"/>
<path d="M724.0 131.7 L726.5 131.0 L730.9 130.5 L731.2 129.0 L729.7 128.5 L728.2 126.7 L727.5 125.7 L727.7 124.2 L725.5 124.0 L726.3 123.1 L724.5 123.1 L723.3 125.2 L724.5 126.2 L724.7 126.9 L726.5 126.9 L726.5 128.3 L725.0 128.7 L725.3 129.4 L724.3 129.9 L726.5 130.2 L724.0 131.7Z" fill="#7db0d8"/>
<path d="M719.5 129.9 L719.5 127.5 L721.5 126.4 L723.5 126.5 L723.5 129.5 L721.5 130.1 L719.5 129.9Z" fill="#5b93c9"/>
<path d="M724.8 133.2 L728.0 132.9 L727.7 131.9 L731.1 130.8 L732.0 130.7 L733.7 131.7 L735.5 132.1 L737.7 132.6 L737.1 134.0 L735.5 135.3 L736.5 135.8 L737.0 137.8 L735.5 138.5 L733.5 138.1 L732.5 139.1 L731.0 139.1 L727.8 138.3 L728.3 135.8 L727.0 134.3 L724.8 133.2Z" fill="#7db0d8"/>
<path d="M738.1 138.7 L739.0 138.7 L738.9 140.2 L738.2 140.0Z" fill="#7db0d8"/>
<path d="M720.3 138.4 L721.5 137.9 L727.8 138.3 L731.0 139.1 L732.7 139.2 L730.0 141.1 L729.2 142.8 L727.5 144.8 L724.2 145.5 L722.1 144.4 L722.5 143.4 L722.5 141.6 L723.2 140.0 L720.7 139.6 L720.3 138.4Z" fill="#7db0d8"/>
<path d="M720.7 139.6 L723.2 140.0 L722.5 141.6 L722.5 143.4 L722.1 144.4 L720.6 144.6 L720.1 142.8 L720.7 139.6Z" fill="#92c0de"/>
<path d="M735.5 130.7 L736.5 128.2 L738.2 127.7 L739.0 126.9 L741.5 127.3 L743.7 127.8 L744.2 130.7 L741.7 131.4 L743.3 132.9 L742.5 134.1 L739.5 134.2 L737.1 134.0 L737.7 132.6 L735.5 132.1 L735.5 130.7Z" fill="#a5cfe6"/>
<path d="M732.0 130.7 L733.0 130.2 L734.0 128.7 L736.5 128.2 L735.5 130.7 L735.5 132.1 L733.7 131.7 L732.0 130.7Z" fill="#92c0de"/>
<path d="M735.5 135.3 L737.1 134.0 L739.5 134.2 L742.5 134.1 L743.3 132.9 L746.5 133.6 L745.7 134.8 L743.2 135.1 L739.9 134.8 L738.5 135.7 L736.5 135.8 L735.5 135.3Z" fill="#a5cfe6"/>
<path d="M736.5 135.8 L738.5 135.7 L739.9 134.8 L743.2 135.1 L741.8 136.3 L742.0 137.6 L743.5 139.1 L745.5 139.8 L748.0 141.4 L746.5 141.2 L746.0 142.6 L745.2 143.6 L745.5 141.6 L742.0 140.1 L740.0 138.6 L738.3 137.2 L737.0 137.8 L736.5 135.8Z" fill="#7db0d8"/>
<path d="M742.0 143.6 L745.0 143.4 L744.6 144.9 L742.0 144.0Z" fill="#7db0d8"/>
<path d="M737.8 140.6 L739.2 140.6 L739.0 142.4 L738.0 142.6Z" fill="#7db0d8"/>
<path d="M743.7 127.8 L747.5 126.9 L749.0 127.3 L752.5 127.4 L753.5 129.2 L753.0 131.2 L752.2 132.4 L748.5 132.1 L744.2 130.7 L743.7 127.8Z" fill="#b5dcec"/>
<path d="M741.7 131.4 L744.2 130.7 L748.5 132.1 L752.0 132.5 L751.6 133.4 L750.0 135.4 L748.3 135.7 L745.7 134.8 L746.5 133.6 L743.3 132.9 L741.7 131.4Z" fill="#b5dcec"/>
<path d="M743.2 135.1 L745.7 134.8 L748.3 135.7 L750.0 135.4 L752.0 137.1 L752.5 139.3 L750.5 140.7 L749.5 141.9 L748.9 139.8 L746.5 138.6 L744.5 137.1 L743.2 136.1 L743.2 135.1Z" fill="#a5cfe6"/>
<path d="M749.5 141.9 L750.5 140.7 L752.5 140.3 L755.8 140.1 L753.5 141.6 L752.5 143.1 L752.7 145.1 L751.2 144.8 L750.5 143.3 L749.5 141.9Z" fill="#7db0d8"/>
<path d="M753.0 146.1 L755.8 146.3 L754.0 146.7Z" fill="#7db0d8"/>
<path d="M750.0 135.4 L751.6 133.4 L756.2 133.3 L757.7 136.1 L759.2 136.4 L758.1 137.9 L755.0 137.9 L752.0 137.1 L750.0 135.4Z" fill="#b5dcec"/>
<path d="M752.0 137.1 L755.0 137.9 L758.1 137.9 L757.5 139.6 L755.8 140.1 L752.5 140.3 L752.5 139.3 L752.0 137.1Z" fill="#d5edf5"/>
<path d="M751.6 133.4 L752.2 132.4 L753.0 131.2 L753.5 129.7 L760.5 129.6 L763.5 129.4 L767.5 131.7 L769.5 132.1 L769.2 133.8 L767.7 134.5 L764.5 135.4 L766.0 136.3 L763.0 137.1 L762.0 136.1 L763.0 135.5 L759.5 135.6 L759.2 136.4 L757.7 136.1 L756.2 133.3 L751.6 133.4Z" fill="#fdfdc9"/>
<path d="M753.0 130.1 L753.0 127.8 L756.1 126.0 L757.7 125.6 L760.4 126.1 L762.2 128.3 L760.5 129.6 L753.5 129.7 L753.0 130.1Z" fill="#d5edf5"/>
<path d="M750.5 125.7 L751.0 124.2 L753.0 122.5 L757.5 122.2 L757.0 124.2 L757.7 125.6 L756.1 126.0 L753.0 127.8 L752.3 127.3 L750.5 126.4 L750.5 125.7Z" fill="#b5dcec"/>
<path d="M755.5 141.6 L755.8 140.1 L757.5 139.6 L760.5 140.4 L764.5 139.6 L767.5 140.6 L771.0 140.1 L773.0 140.6 L774.3 141.9 L774.0 144.4 L771.8 144.4 L768.5 144.9 L766.2 144.8 L765.5 145.6 L762.0 145.5 L760.0 145.1 L757.5 144.8 L756.0 143.1 L755.5 141.6Z" fill="#7db0d8"/>
<path d="M761.8 146.6 L764.0 146.0 L763.4 146.9Z" fill="#92c0de"/>
<path d="M757.0 124.2 L757.5 122.2 L759.5 121.7 L757.5 121.2 L761.0 118.9 L759.0 117.7 L759.5 114.2 L758.0 112.7 L760.5 111.5 L762.5 112.4 L770.5 114.7 L770.0 115.4 L764.5 115.4 L764.0 117.2 L766.5 117.9 L770.0 117.2 L769.5 115.7 L773.5 115.5 L773.5 113.4 L775.5 113.7 L778.5 113.7 L783.5 113.5 L789.5 111.9 L790.0 113.2 L795.5 112.7 L797.5 113.4 L796.5 110.3 L798.5 108.8 L802.5 110.3 L801.5 114.2 L803.5 113.7 L804.5 109.8 L809.5 108.8 L815.5 107.8 L816.5 106.3 L827.5 105.5 L833.5 104.1 L840.5 105.0 L842.5 107.8 L837.5 108.3 L842.5 108.1 L853.5 108.1 L858.5 110.8 L861.5 110.0 L869.5 109.3 L879.5 110.3 L889.5 111.9 L890.5 112.7 L899.5 111.8 L905.5 111.9 L909.5 112.7 L909.5 116.7 L907.5 117.2 L906.5 119.2 L901.5 120.7 L899.5 121.7 L893.5 121.9 L892.5 123.9 L891.5 125.7 L891.0 126.9 L886.5 130.7 L885.3 124.9 L886.0 123.7 L891.0 121.2 L893.5 119.2 L889.5 120.0 L884.5 122.4 L881.5 122.7 L878.5 122.2 L871.5 122.5 L864.5 126.9 L867.5 127.9 L870.7 128.5 L870.0 130.7 L869.5 133.1 L867.5 135.3 L865.0 137.6 L862.3 138.8 L860.2 139.3 L860.5 136.8 L862.5 136.6 L864.5 133.2 L860.0 132.8 L857.0 131.8 L855.5 128.9 L853.0 128.2 L849.5 128.5 L849.0 131.7 L846.5 132.0 L844.5 131.5 L840.5 132.3 L837.5 132.1 L834.5 131.3 L831.5 131.2 L831.7 130.2 L828.0 129.7 L827.0 131.7 L821.5 131.0 L817.5 132.3 L816.8 132.4 L814.5 131.8 L812.5 130.7 L809.5 130.7 L806.5 128.4 L803.5 128.1 L800.5 127.4 L798.0 126.7 L790.5 127.7 L789.0 129.9 L791.0 130.7 L789.0 131.2 L784.5 130.7 L780.5 130.0 L778.2 131.6 L776.5 131.5 L776.3 132.8 L778.0 135.1 L777.0 138.6 L778.0 139.7 L776.8 140.3 L774.5 139.0 L773.0 138.8 L769.5 138.1 L767.0 136.9 L766.5 136.3 L767.7 134.5 L769.2 133.8 L769.5 132.1 L767.5 131.7 L763.5 129.4 L762.2 128.3 L760.4 126.1 L757.7 125.6 L757.0 124.2Z" fill="#e6f5ec"/>
<path d="M549.5 116.7 L549.5 112.7 L552.5 113.4 L556.5 114.7 L559.5 115.7 L557.0 117.2 L553.5 116.4 L549.5 116.7Z" fill="#e6f5ec"/>
<path d="M781.5 110.8 L784.5 108.3 L789.5 105.8 L797.5 104.8 L796.5 105.8 L789.5 107.3 L785.5 109.8 L786.0 111.2 L781.5 110.8Z" fill="#e6f5ec"/>
<path d="M871.5 127.4 L873.0 129.7 L872.8 132.3 L872.5 135.1 L871.5 135.6 L871.5 132.6 L871.5 127.4Z" fill="#e6f5ec"/>
<path d="M824.5 102.8 L829.5 100.8 L834.5 102.8 L829.5 103.8 L824.5 102.8Z" fill="#e6f5ec"/>
<path d="M866.5 106.3 L871.5 105.8 L879.5 106.5 L873.5 107.0 L867.5 107.3Z" fill="#e6f5ec"/>
<path d="M776.5 101.3 L784.5 100.3 L792.5 100.8 L786.5 101.8 L776.5 101.3Z" fill="#e6f5ec"/>
<path d="M908.0 110.3 L910.5 110.8 L908.5 111.0Z" fill="#e6f5ec"/>
<path d="M749.3 127.3 L752.3 127.3 L752.0 126.7 L750.5 126.4Z" fill="#e6f5ec"/>
<path d="M776.3 132.8 L776.5 131.5 L778.2 131.6 L780.5 130.0 L784.5 130.7 L789.0 131.2 L791.0 130.7 L789.0 129.9 L790.5 127.7 L798.0 126.7 L800.5 127.4 L803.5 128.1 L806.5 128.4 L809.5 130.7 L812.5 130.7 L814.5 131.8 L816.8 132.4 L815.2 134.1 L812.5 134.4 L811.8 136.1 L809.7 136.6 L809.5 139.3 L804.0 138.4 L800.5 139.3 L800.0 140.1 L798.0 140.8 L795.5 140.6 L795.5 138.6 L790.5 137.1 L788.0 136.1 L785.5 136.6 L785.5 140.3 L784.0 139.6 L782.0 139.8 L780.5 137.1 L782.5 134.8 L778.5 135.1 L778.0 135.1 L776.3 132.8Z" fill="#92c0de"/>
<path d="M782.0 139.8 L784.0 139.6 L785.5 140.3 L785.5 136.6 L788.0 136.1 L790.5 137.1 L795.5 138.6 L795.5 140.6 L798.0 140.8 L800.0 140.1 L800.5 139.3 L800.0 141.4 L797.0 142.1 L796.5 144.2 L796.0 144.3 L794.0 145.3 L790.7 146.0 L790.5 145.0 L787.5 143.9 L783.5 144.2 L782.5 142.6 L782.0 139.8Z" fill="#92c0de"/>
<path d="M800.0 141.4 L800.0 140.1 L800.5 139.3 L804.0 138.4 L809.5 139.3 L807.5 140.6 L803.5 141.3 L803.2 142.1 L804.3 144.3 L801.0 144.8 L797.5 144.6 L796.5 144.2 L797.0 142.1 L800.0 141.4Z" fill="#7db0d8"/>
<path d="M816.8 132.4 L817.5 132.3 L821.5 131.0 L827.0 131.7 L828.0 129.7 L831.7 130.2 L831.5 131.2 L834.5 131.3 L837.5 132.1 L840.5 132.3 L844.5 131.5 L846.5 132.0 L849.0 131.7 L845.5 133.6 L849.0 134.9 L844.5 136.2 L841.3 137.9 L834.5 140.0 L826.5 138.8 L820.5 136.6 L820.0 134.1 L816.8 132.4Z" fill="#92c0de"/>
<path d="M803.2 142.1 L803.5 141.3 L807.5 140.6 L809.5 139.3 L809.7 136.6 L811.8 136.1 L812.5 134.4 L815.2 134.1 L816.8 132.4 L820.0 134.1 L820.5 136.6 L826.5 138.8 L834.5 140.0 L841.3 137.9 L844.5 136.2 L849.0 134.9 L845.5 133.6 L849.0 131.7 L849.5 128.5 L853.0 128.2 L855.5 128.9 L857.0 131.8 L860.0 132.8 L864.5 133.2 L862.5 136.6 L860.5 136.8 L860.2 139.3 L857.5 139.6 L855.5 140.6 L853.8 141.6 L851.0 142.6 L851.2 140.8 L848.5 142.4 L847.5 143.6 L852.0 144.4 L848.8 146.6 L850.5 149.6 L851.3 151.1 L850.0 154.0 L848.5 156.0 L846.5 158.0 L843.5 159.2 L840.0 160.3 L837.5 159.9 L836.2 158.7 L834.5 158.3 L831.7 159.1 L830.7 160.2 L828.7 159.5 L828.3 157.5 L827.2 157.0 L828.2 153.9 L826.8 153.2 L824.5 152.3 L821.5 153.7 L818.3 153.5 L815.0 153.2 L810.7 151.4 L808.5 150.4 L808.3 147.3 L807.3 146.1 L805.5 145.8 L804.3 144.3 L803.2 142.1Z" fill="#6f9fce"/>
<path d="M850.5 156.3 L851.5 156.5 L850.3 159.5 L849.6 158.5Z" fill="#92c0de"/>
<path d="M838.2 162.2 L840.0 161.5 L840.5 161.9 L839.0 163.3Z" fill="#6f9fce"/>
<path d="M853.8 141.6 L855.5 140.6 L857.5 139.6 L860.2 139.3 L859.0 140.8 L857.0 142.3 L857.8 143.0 L856.0 143.8 L854.2 143.6 L854.8 142.1 L853.8 141.6Z" fill="#92c0de"/>
<path d="M856.0 143.8 L857.8 143.0 L858.9 144.6 L858.8 146.4 L857.0 146.9 L855.8 147.1 L856.0 145.1 L856.0 143.8Z" fill="#a5cfe6"/>
<path d="M859.5 148.3 L860.3 150.4 L861.3 148.3 L862.0 147.4 L864.5 147.0 L866.5 147.0 L868.3 146.9 L869.5 146.4 L870.3 145.6 L870.5 143.3 L871.5 142.1 L870.8 140.2 L869.5 140.9 L869.3 142.6 L868.0 144.2 L866.3 144.6 L865.5 145.9 L862.5 146.1 L860.5 147.2 L859.5 148.3Z" fill="#a5cfe6"/>
<path d="M869.5 140.1 L870.5 138.4 L871.2 136.2 L874.8 138.2 L872.7 139.6 L870.5 139.1 L869.5 140.1Z" fill="#a5cfe6"/>
<path d="M861.7 147.8 L864.0 147.4 L863.5 148.3 L862.3 148.8Z" fill="#a5cfe6"/>
<path d="M797.7 157.9 L799.8 160.6 L802.2 160.5 L802.3 162.5 L803.0 165.5 L804.3 168.7 L805.8 171.9 L807.0 173.3 L807.7 172.4 L809.3 171.2 L809.7 168.0 L809.7 166.0 L811.8 164.8 L814.5 162.0 L816.5 160.0 L818.3 159.8 L817.7 157.0 L818.0 155.1 L819.3 156.3 L821.5 156.5 L821.0 158.5 L822.1 159.5 L822.8 157.5 L824.2 156.2 L826.8 153.2 L824.5 152.3 L821.5 153.7 L821.5 154.7 L818.5 154.7 L818.3 153.5 L817.5 155.0 L814.5 154.8 L810.5 153.0 L809.5 151.4 L810.7 151.4 L808.5 150.4 L808.3 147.3 L807.3 146.1 L803.5 146.9 L804.0 148.8 L804.0 150.6 L802.5 151.7 L800.5 153.6 L799.7 155.8 L800.5 157.1 L798.3 157.2 L797.7 157.9Z" fill="#a5cfe6"/>
<path d="M791.3 156.4 L796.0 156.1 L796.8 157.5 L797.7 157.9 L798.3 157.2 L800.5 157.1 L799.7 155.8 L800.5 153.6 L802.5 151.7 L804.0 150.6 L804.0 148.8 L803.5 146.9 L807.3 146.1 L805.5 145.8 L804.3 144.3 L801.0 144.8 L800.7 147.6 L799.0 148.6 L798.8 149.8 L796.0 150.6 L795.8 151.7 L792.0 152.1 L790.4 151.7 L792.7 154.3 L791.3 156.4Z" fill="#b5dcec"/>
<path d="M790.4 151.7 L792.0 152.1 L795.8 151.7 L796.0 150.6 L798.8 149.8 L799.0 148.6 L800.7 147.6 L801.0 144.8 L797.5 144.6 L796.0 144.3 L794.0 145.3 L790.7 146.0 L790.1 148.1 L790.4 151.7Z" fill="#d5edf5"/>
<path d="M774.3 141.9 L775.7 142.7 L777.5 141.9 L778.5 144.1 L780.5 144.8 L783.5 144.2 L787.5 143.9 L790.5 145.0 L790.7 146.0 L790.1 148.1 L790.4 151.7 L792.7 154.3 L791.3 156.4 L786.8 155.8 L786.0 154.4 L784.2 154.9 L782.0 153.9 L779.7 151.6 L778.3 151.3 L777.2 150.6 L775.5 148.6 L775.0 147.1 L775.7 145.8 L774.0 144.4 L774.3 141.9Z" fill="#5f8fc9"/>
<path d="M809.5 151.4 L810.5 153.0 L814.5 154.8 L817.5 155.0 L818.3 153.5 L815.0 153.2 L810.7 151.4Z" fill="#a5cfe6"/>
<path d="M818.3 153.5 L818.5 154.7 L821.5 154.7 L821.5 153.7Z" fill="#a5cfe6"/>
<path d="M817.7 157.0 L818.3 159.8 L820.0 159.3 L821.8 160.7 L822.1 159.5 L821.0 158.5 L821.5 156.5 L819.3 156.3 L818.0 155.1 L817.7 157.0Z" fill="#a5cfe6"/>
<path d="M809.3 171.7 L810.7 172.9 L811.3 174.4 L810.0 175.5 L809.3 174.4 L809.3 171.7Z" fill="#6ea4d1"/>
<path d="M821.8 160.7 L824.0 165.5 L824.8 165.7 L827.0 165.0 L827.7 171.5 L828.5 170.0 L828.0 167.5 L828.2 164.5 L827.0 163.0 L828.5 161.5 L830.7 160.2 L828.7 159.5 L828.3 157.5 L827.2 157.0 L828.2 153.9 L826.8 153.2 L824.2 156.2 L822.8 157.5 L822.1 159.5 L821.8 160.7Z" fill="#f2f9df"/>
<path d="M827.7 171.5 L827.8 173.4 L829.5 174.9 L831.5 175.2 L830.0 172.9 L828.8 171.9 L829.5 168.2 L830.5 168.8 L832.2 169.5 L832.0 167.2 L835.0 167.1 L833.5 163.5 L830.5 164.0 L830.7 162.0 L829.5 161.2 L828.5 161.5 L827.0 163.0 L828.2 164.5 L828.0 167.5 L828.5 170.0 L827.7 171.5Z" fill="#b5dcec"/>
<path d="M829.5 161.2 L830.7 162.0 L830.5 164.0 L833.5 163.5 L835.0 167.1 L837.0 166.8 L836.5 165.0 L834.0 162.5 L833.5 161.0 L831.7 159.1 L830.7 160.2 L829.5 161.2Z" fill="#a5cfe6"/>
<path d="M831.7 159.1 L834.5 158.3 L836.2 158.7 L837.5 159.9 L836.0 161.5 L835.2 162.7 L837.0 165.0 L838.5 167.5 L838.8 170.0 L836.5 171.1 L834.5 172.7 L834.3 171.2 L835.5 170.5 L837.0 169.2 L837.0 166.8 L836.5 165.0 L834.0 162.5 L833.5 161.0 L831.7 159.1Z" fill="#7db0d8"/>
<path d="M832.2 169.5 L832.0 167.2 L835.0 167.1 L837.0 166.8 L837.0 169.2 L835.5 170.5 L834.3 171.2 L832.5 170.5 L832.2 169.5Z" fill="#a5cfe6"/>
<path d="M829.5 174.9 L831.5 175.2 L832.9 176.9 L833.7 180.0 L832.9 180.1 L830.8 178.5 L829.8 175.9 L829.5 174.9Z" fill="#7db0d8"/>
<path d="M824.8 175.8 L827.0 176.2 L829.8 179.1 L833.2 181.9 L835.5 184.4 L835.3 187.2 L834.0 187.2 L831.8 185.4 L829.9 182.4 L828.2 179.7 L826.5 178.1 L824.8 175.8Z" fill="#92c0de"/>
<path d="M834.7 188.2 L836.2 187.4 L838.0 188.1 L840.3 187.8 L842.2 188.4 L844.0 189.2 L843.8 190.1 L840.5 189.7 L837.5 189.2 L834.7 188.2Z" fill="#92c0de"/>
<path d="M838.5 179.9 L839.5 179.7 L840.7 180.0 L842.5 178.2 L845.0 176.4 L846.5 174.4 L848.7 176.1 L847.2 177.2 L848.3 180.4 L847.0 180.9 L846.0 183.9 L845.5 185.4 L844.0 185.4 L842.5 184.6 L841.2 184.4 L839.7 184.3 L839.5 182.7 L838.5 181.1 L838.5 179.9Z" fill="#a5cfe6"/>
<path d="M849.0 180.9 L850.3 180.1 L854.0 180.4 L854.5 179.8 L853.0 181.1 L850.2 181.1 L851.0 182.4 L852.5 182.3 L851.3 183.4 L852.0 184.6 L852.5 186.9 L851.2 186.2 L850.5 184.1 L849.8 184.4 L849.9 187.0 L849.0 186.9 L849.0 184.9 L848.3 184.1 L849.3 181.4 L849.0 180.9Z" fill="#92c0de"/>
<path d="M860.5 182.2 L863.5 182.2 L864.5 184.7 L867.5 183.0 L870.5 184.0 L870.5 190.5 L867.5 189.7 L868.0 188.2 L865.0 185.9 L862.5 185.4 L861.5 184.2 L860.5 182.2Z" fill="#92c0de"/>
<path d="M870.5 184.0 L874.0 185.2 L875.5 186.9 L877.3 187.6 L876.5 188.4 L880.3 191.6 L877.5 191.5 L875.5 189.6 L873.5 189.1 L872.0 190.7 L870.5 190.5 L870.5 184.0Z" fill="#b5dcec"/>
<path d="M878.0 187.0 L881.0 185.6 L881.8 185.7 L880.5 187.4 L878.5 187.7Z" fill="#b5dcec"/>
<path d="M845.5 189.8 L848.5 189.6 L850.0 189.7 L852.5 189.7 L852.0 190.2 L848.5 190.2 L846.0 190.4Z" fill="#92c0de"/>
<path d="M853.0 191.6 L854.5 190.0 L856.5 189.8 L854.5 191.0Z" fill="#92c0de"/>
<path d="M857.0 179.6 L858.2 179.9 L857.5 182.2 L857.0 180.9Z" fill="#92c0de"/>
<path d="M855.5 184.6 L856.7 184.6 L859.0 184.3 L860.3 184.9 L857.5 185.0Z" fill="#92c0de"/>
<path d="M849.8 165.5 L850.3 163.0 L851.7 163.1 L851.5 165.2 L851.0 167.2 L853.5 168.5 L853.3 168.9 L851.5 167.7 L850.1 167.7 L849.8 165.5Z" fill="#7db0d8"/>
<path d="M851.5 174.4 L853.0 172.8 L855.0 171.6 L856.0 173.9 L855.0 175.8 L853.5 174.6 L851.5 174.4Z" fill="#7db0d8"/>
<path d="M851.5 169.7 L852.7 170.0 L855.0 169.0 L855.0 171.3 L853.0 171.9 L852.0 171.0Z" fill="#7db0d8"/>
<path d="M846.7 173.0 L849.0 171.0 L849.2 170.2 L847.5 172.4Z" fill="#7db0d8"/>
<path d="M764.4 152.1 L765.6 152.3 L767.0 151.6 L768.5 149.4 L771.5 150.5 L774.2 152.3 L776.0 152.4 L777.9 153.0 L779.7 154.9 L780.3 156.7 L781.1 157.2 L782.1 158.6 L784.7 158.8 L785.2 159.5 L784.5 161.5 L781.5 162.5 L778.3 162.9 L776.9 164.4 L776.0 164.3 L772.9 164.0 L772.7 164.8 L772.3 165.1 L770.5 162.5 L768.7 160.2 L768.0 158.0 L766.7 156.3 L764.7 153.5 L764.4 152.1Z" fill="#4c7cba"/>
<path d="M772.3 165.1 L772.7 164.8 L772.9 164.0 L776.0 164.3 L776.9 164.4 L778.3 162.9 L781.5 162.5 L782.6 164.9 L781.7 165.9 L778.2 167.5 L774.5 168.7 L773.0 168.9 L772.3 166.7 L772.3 165.1Z" fill="#92c0de"/>
<path d="M781.5 162.5 L784.5 161.5 L785.2 159.5 L784.7 158.8 L785.3 157.3 L785.9 156.6 L786.3 157.3 L788.2 157.9 L789.3 159.0 L788.0 161.1 L787.2 162.5 L784.8 163.9 L782.6 164.9 L781.5 162.5Z" fill="#3050a5"/>
<path d="M781.1 157.2 L782.1 158.6 L784.7 158.8 L785.3 157.3 L785.9 156.6 L785.7 155.5 L784.0 157.2 L781.1 157.2Z" fill="#4c7cba"/>
<path d="M768.5 149.4 L768.3 148.2 L770.7 146.9 L771.8 144.4 L774.0 144.4 L775.7 145.8 L775.0 147.1 L775.5 148.6 L777.2 150.6 L778.0 151.6 L776.0 152.4 L774.2 152.3 L771.5 150.5 L768.5 149.4Z" fill="#92c0de"/>
<path d="M765.5 145.6 L766.2 144.8 L768.5 144.9 L771.8 144.4 L770.7 146.9 L768.3 148.2 L766.3 149.2 L765.3 148.3 L766.0 147.0 L765.5 145.6Z" fill="#92c0de"/>
<path d="M764.4 152.1 L765.6 152.3 L767.0 151.6 L768.5 149.4 L768.3 148.2 L766.3 149.2 L765.3 148.3 L766.0 147.0 L765.5 147.0 L764.6 148.5 L763.8 150.3 L764.4 152.1Z" fill="#7db0d8"/>
<path d="M769.5 138.1 L773.0 138.8 L774.5 139.0 L776.8 140.3 L778.0 139.7 L779.5 141.3 L778.4 143.2 L777.5 141.9 L775.7 142.7 L774.3 141.9 L773.0 140.6 L771.0 140.1 L769.5 138.1Z" fill="#92c0de"/>
<path d="M716.5 153.8 L720.8 153.8 L724.5 151.6 L725.9 150.6 L728.3 149.4 L727.5 146.6 L724.2 145.7 L723.5 145.8 L719.7 150.1 L719.8 151.7 L716.5 153.8Z" fill="#a5cfe6"/>
<path d="M712.5 160.5 L716.5 160.2 L716.5 158.5 L717.5 158.0 L717.5 155.5 L720.8 155.5 L720.8 153.8 L716.5 153.8 L714.7 156.0 L713.5 157.8 L712.5 160.5Z" fill="#d2d2d2"/>
<path d="M720.8 153.8 L720.8 154.2 L724.7 156.5 L730.5 160.5 L732.8 162.5 L735.5 162.0 L741.5 158.0 L739.5 157.0 L739.0 155.0 L739.5 151.6 L738.5 151.3 L737.0 148.1 L738.0 144.7 L732.5 144.7 L727.5 146.6 L728.3 149.4 L725.9 150.6 L724.5 151.6 L720.8 153.8Z" fill="#6ea4d1"/>
<path d="M737.0 148.1 L738.5 151.3 L739.5 151.6 L741.0 149.1 L739.5 147.3 L740.5 144.6 L739.3 144.3 L738.0 144.7 L737.0 148.1Z" fill="#a5cfe6"/>
<path d="M739.5 157.0 L741.5 158.0 L743.7 158.9 L745.5 158.0 L753.5 162.0 L753.5 161.5 L754.5 161.5 L754.5 150.1 L751.5 148.7 L749.5 150.6 L748.0 151.3 L744.7 149.3 L741.0 148.5 L741.0 149.1 L739.5 151.6 L739.0 155.0 L739.5 157.0Z" fill="#b5dcec"/>
<path d="M754.5 150.1 L754.5 159.5 L766.4 159.5 L765.1 157.5 L763.7 154.0 L763.0 153.3 L763.9 153.5 L764.4 152.1 L763.8 150.3 L761.8 150.3 L760.5 150.1 L758.5 150.7 L754.5 150.1Z" fill="#92c0de"/>
<path d="M753.5 162.0 L753.5 161.5 L754.5 161.5 L754.5 159.5 L766.4 159.5 L766.8 160.7 L768.0 163.5 L766.5 164.5 L766.0 167.2 L764.7 169.5 L763.5 171.8 L763.3 171.3 L761.9 169.8 L761.5 169.3 L759.0 171.6 L757.3 171.8 L755.3 171.1 L753.5 172.7 L753.0 171.5 L752.4 170.1 L751.5 168.8 L752.0 167.5 L753.5 165.8 L753.5 162.0Z" fill="#a5cfe6"/>
<path d="M753.5 172.7 L755.3 171.1 L757.3 171.8 L759.0 171.6 L761.5 169.3 L761.9 169.8 L763.3 171.3 L763.5 171.8 L762.5 173.6 L764.8 176.0 L763.5 177.2 L760.5 177.8 L760.3 177.9 L759.2 176.8 L756.9 176.3 L754.7 173.6 L753.5 172.7Z" fill="#f46d43"/>
<path d="M712.5 160.5 L716.5 160.2 L716.5 158.5 L717.5 158.0 L717.5 155.5 L720.8 155.5 L720.8 154.2 L724.7 156.5 L723.0 156.5 L724.0 165.0 L724.2 166.0 L720.2 166.0 L718.0 165.9 L717.3 166.7 L715.2 164.9 L713.0 165.5 L713.0 162.0 L712.5 160.5Z" fill="#b5dcec"/>
<path d="M724.7 156.5 L730.5 160.5 L732.8 162.5 L733.7 162.4 L733.7 165.0 L733.0 166.1 L730.5 166.5 L729.0 166.5 L727.5 167.3 L726.5 167.9 L725.2 168.8 L724.2 169.7 L724.0 171.1 L721.6 171.3 L721.2 170.5 L720.5 169.2 L718.1 169.3 L717.3 166.7 L718.0 165.9 L720.2 166.0 L724.2 166.0 L724.0 165.0 L723.0 156.5 L724.7 156.5Z" fill="#fdb863"/>
<path d="M732.8 162.5 L735.5 162.0 L741.5 158.0 L743.7 158.9 L744.5 158.5 L745.5 161.0 L745.0 164.7 L743.1 167.8 L742.0 168.3 L739.5 168.2 L737.3 168.2 L736.3 168.4 L733.6 168.0 L733.1 169.8 L732.3 169.1 L731.7 169.1 L730.5 168.1 L730.5 166.5 L733.0 166.1 L733.7 165.0 L733.7 162.4 L732.8 162.5Z" fill="#d7261f"/>
<path d="M743.7 158.9 L745.5 158.0 L753.5 162.0 L753.5 165.8 L752.0 167.5 L751.5 168.8 L752.4 170.1 L752.4 170.6 L751.2 170.9 L749.9 172.3 L748.4 172.6 L746.5 173.7 L745.0 173.9 L743.5 171.5 L745.0 171.5 L744.4 169.3 L744.0 168.6 L743.1 167.8 L745.0 164.7 L745.5 161.0 L744.5 158.5 L743.7 158.9Z" fill="#e2452e"/>
<path d="M744.0 175.4 L745.0 173.9 L746.5 173.7 L748.4 172.6 L749.9 172.3 L751.2 170.9 L752.4 170.6 L753.0 171.5 L753.5 172.7 L754.7 173.6 L756.9 176.3 L755.0 176.2 L752.0 177.3 L749.0 176.3 L748.1 177.9 L746.0 178.2 L745.7 179.2 L744.0 176.9 L744.0 175.4Z" fill="#a50026"/>
<path d="M732.2 175.0 L732.3 172.4 L733.1 169.8 L733.6 168.0 L736.3 168.4 L737.3 168.2 L739.5 168.2 L742.0 168.3 L743.1 167.8 L744.0 168.6 L744.4 169.3 L743.3 170.5 L742.5 172.9 L741.3 174.5 L739.7 174.5 L738.0 176.7 L735.5 177.1 L734.0 175.1 L732.2 175.0Z" fill="#feeea5"/>
<path d="M738.0 176.7 L739.7 174.5 L741.3 174.5 L742.5 172.9 L743.3 170.5 L744.4 169.3 L745.0 171.5 L743.5 171.5 L745.0 173.9 L744.0 175.4 L744.0 176.9 L745.7 179.2 L742.8 179.2 L740.8 179.2 L739.3 179.1 L739.3 177.9 L738.0 176.7Z" fill="#fff6b5"/>
<path d="M712.0 166.8 L713.0 165.5 L715.2 164.9 L717.3 166.7 L718.1 169.3 L715.8 168.9 L714.5 170.5 L712.8 169.2 L712.0 166.8Z" fill="#b5dcec"/>
<path d="M714.5 170.5 L715.8 168.9 L718.1 169.3 L720.5 169.2 L721.2 170.5 L721.6 171.3 L721.2 173.8 L720.1 174.0 L719.0 173.0 L718.0 171.5 L716.2 172.4 L714.5 170.5Z" fill="#fdc878"/>
<path d="M716.2 172.4 L718.0 171.5 L719.0 173.0 L718.0 174.5 L716.2 172.4Z" fill="#f99d59"/>
<path d="M718.0 174.5 L719.0 173.0 L720.1 174.0 L721.2 173.8 L722.0 177.0 L720.5 176.4 L718.0 174.5Z" fill="#ffefae"/>
<path d="M721.6 171.3 L724.0 171.1 L726.8 171.9 L726.3 176.3 L722.0 177.0 L721.2 173.8 L721.6 171.3Z" fill="#ffffc8"/>
<path d="M724.0 171.1 L724.2 169.7 L725.2 168.8 L726.5 167.9 L727.5 167.3 L729.0 166.5 L730.5 166.5 L730.5 168.1 L731.7 169.1 L731.8 169.8 L730.4 170.5 L726.8 170.5 L726.8 171.9 L724.0 171.1Z" fill="#fff3b0"/>
<path d="M726.8 170.5 L730.4 170.5 L730.1 172.9 L730.7 175.3 L726.3 176.3 L726.8 171.9 L726.8 170.5Z" fill="#f5fbdc"/>
<path d="M730.4 170.5 L731.8 169.8 L733.1 169.8 L732.3 172.4 L732.2 175.0 L730.7 175.3 L730.1 172.9 L730.4 170.5Z" fill="#e8f5e0"/>
<path d="M739.3 179.1 L740.8 179.2 L742.8 179.2 L745.7 179.2 L746.0 178.2 L748.1 177.9 L747.3 181.9 L745.5 183.9 L744.7 185.7 L743.0 186.2 L741.5 186.4 L740.5 185.3 L738.5 182.4 L739.0 180.4 L739.3 179.1Z" fill="#e0f3f8"/>
<path d="M741.5 186.4 L743.0 186.2 L744.7 185.7 L745.5 183.9 L747.3 181.9 L748.1 177.9 L749.0 176.3 L752.0 177.3 L755.0 176.2 L756.9 176.3 L759.2 176.8 L760.3 177.9 L760.8 179.2 L759.2 181.9 L758.8 182.9 L758.7 185.9 L759.0 187.9 L760.2 189.6 L758.3 190.0 L757.9 190.9 L758.5 193.6 L759.3 194.7 L756.8 193.3 L754.8 192.6 L753.5 192.3 L751.5 192.5 L751.5 188.4 L749.0 188.4 L748.5 189.4 L747.0 189.4 L746.0 187.3 L742.5 187.3 L741.7 187.2 L741.5 186.4Z" fill="#fee090"/>
<path d="M759.2 181.9 L760.8 179.2 L760.3 177.9 L760.5 177.8 L763.5 177.2 L764.5 179.7 L763.5 181.4 L763.4 182.4 L760.0 182.4 L759.2 181.9Z" fill="#a5cfe6"/>
<path d="M763.5 177.2 L765.5 177.0 L767.5 177.8 L769.3 177.5 L771.4 177.5 L770.5 178.6 L770.5 182.3 L771.0 183.1 L768.7 186.1 L767.1 184.5 L763.4 182.4 L763.5 181.4 L764.5 179.7 L763.5 177.2Z" fill="#a5cfe6"/>
<path d="M762.5 173.6 L763.5 171.8 L764.7 169.5 L766.0 167.2 L767.5 166.8 L769.5 167.0 L771.9 169.0 L771.3 170.5 L772.5 170.8 L773.5 172.4 L776.5 173.4 L777.5 173.4 L774.5 176.4 L771.5 177.2 L771.4 177.5 L769.3 177.5 L767.5 177.8 L765.5 177.0 L763.5 177.2 L764.8 176.0 L762.5 173.6Z" fill="#f0f8e2"/>
<path d="M766.0 167.2 L766.5 164.5 L768.0 163.5 L769.5 166.0 L772.6 168.8 L772.8 170.0 L771.3 170.5 L771.9 169.0 L769.5 167.0 L767.5 166.8 L766.0 167.2Z" fill="#a5cfe6"/>
<path d="M771.4 177.5 L771.5 177.2 L774.5 176.4 L777.5 173.4 L776.5 173.4 L773.5 172.4 L772.5 170.8 L772.8 170.0 L774.0 171.0 L776.5 170.3 L780.6 169.5 L780.5 171.1 L778.5 175.4 L775.5 178.9 L772.1 182.4 L771.0 183.1 L770.5 182.3 L770.5 178.6 L771.4 177.5Z" fill="#fdb863"/>
<path d="M763.4 182.4 L767.1 184.5 L768.7 186.1 L768.3 187.9 L769.0 189.4 L769.9 191.7 L767.5 192.6 L764.5 192.9 L764.0 191.0 L762.4 190.8 L760.2 189.6 L759.0 187.9 L758.7 185.9 L760.0 184.4 L760.0 182.4 L763.4 182.4Z" fill="#b5dcec"/>
<path d="M758.8 182.9 L760.0 182.4 L760.0 184.4 L758.7 185.9 L758.8 182.9Z" fill="#a5cfe6"/>
<path d="M741.7 187.2 L742.5 187.3 L746.0 187.3 L747.0 189.4 L748.5 189.4 L749.0 188.4 L751.5 188.4 L751.5 192.5 L753.5 192.3 L753.5 194.3 L751.5 194.3 L751.5 197.5 L752.8 198.9 L750.9 199.3 L748.0 198.7 L743.5 198.7 L741.3 198.6 L742.0 194.8 L743.2 192.3 L742.3 190.2 L741.7 187.2Z" fill="#ffffc4"/>
<path d="M751.5 194.3 L753.5 194.3 L753.5 192.3 L754.8 192.6 L756.8 193.3 L759.3 194.7 L758.5 193.6 L757.9 190.9 L758.3 190.0 L760.2 189.6 L762.4 190.8 L762.8 193.8 L762.5 195.3 L759.8 196.3 L759.8 197.0 L758.4 197.3 L756.5 199.3 L754.8 199.1 L752.8 198.9 L751.5 197.5 L751.5 194.3Z" fill="#ffffc4"/>
<path d="M762.4 190.8 L764.0 191.0 L764.5 192.9 L765.3 195.8 L764.8 198.3 L763.8 195.8 L762.5 195.3 L762.8 193.8 L762.4 190.8Z" fill="#f6fbd8"/>
<path d="M764.5 192.9 L767.5 192.6 L769.9 191.7 L770.3 195.8 L768.5 198.3 L766.3 199.3 L764.3 201.3 L765.0 204.8 L762.5 206.6 L762.4 208.1 L761.5 208.1 L761.4 205.2 L760.8 203.7 L762.3 201.8 L762.5 198.8 L759.8 197.0 L759.8 196.3 L762.5 195.3 L763.8 195.8 L764.8 198.3 L765.3 195.8 L764.5 192.9Z" fill="#fff2b0"/>
<path d="M754.8 199.1 L756.5 199.3 L758.4 197.3 L759.8 197.0 L762.5 198.8 L762.3 201.8 L760.8 203.7 L758.9 203.5 L757.2 201.8 L755.5 200.8 L754.8 199.1Z" fill="#ffffc4"/>
<path d="M749.5 203.3 L750.5 199.6 L752.8 198.9 L754.8 199.1 L755.5 200.8 L757.2 201.8 L758.9 203.5 L756.5 205.0 L755.0 206.9 L752.5 206.6 L750.2 208.1 L749.5 206.1 L749.5 203.3Z" fill="#b5dcec"/>
<path d="M741.3 198.6 L743.5 198.7 L748.0 198.7 L750.9 199.3 L752.8 198.9 L750.5 199.6 L749.5 203.3 L749.5 206.1 L749.5 209.7 L746.9 210.0 L746.0 209.9 L744.5 207.8 L744.0 203.8 L741.3 198.6Z" fill="#e0f3f8"/>
<path d="M746.0 209.9 L746.9 210.0 L749.5 209.7 L749.5 206.1 L750.2 208.1 L752.5 206.6 L755.0 206.9 L756.5 205.0 L758.9 203.5 L760.8 203.7 L761.4 205.2 L761.5 208.1 L762.4 208.1 L762.0 209.8 L760.0 212.2 L757.5 214.2 L755.2 215.2 L751.5 215.4 L749.5 216.0 L747.9 215.4 L747.7 213.2 L746.0 209.9Z" fill="#fbfdd0"/>
<path d="M756.8 210.9 L757.9 210.2 L758.7 210.9 L757.7 211.6Z" fill="#7a1a10"/>
<path d="M778.8 193.3 L779.9 196.8 L779.0 198.8 L776.7 206.1 L774.7 206.8 L773.2 204.8 L772.8 203.1 L773.9 201.1 L773.5 198.1 L776.0 197.0 L777.5 194.8 L778.8 193.3Z" fill="#fbfdd0"/>
<path d="M843.0 203.3 L843.7 207.3 L844.5 211.2 L844.7 214.7 L844.7 215.5 L847.5 216.2 L849.5 215.1 L853.0 215.1 L855.5 213.5 L858.5 212.9 L860.7 212.7 L863.5 214.0 L865.3 216.0 L867.3 214.2 L867.0 216.5 L869.0 217.0 L870.0 219.2 L873.0 220.0 L875.8 220.2 L877.5 219.0 L879.5 218.2 L880.3 215.7 L882.0 213.5 L883.0 209.8 L882.5 206.8 L880.5 204.8 L878.8 202.8 L876.0 200.3 L875.0 196.3 L873.2 195.6 L872.0 192.1 L871.1 194.8 L870.5 198.3 L869.0 198.8 L866.5 197.1 L865.0 196.1 L866.3 193.5 L862.5 192.8 L860.0 193.8 L859.0 196.3 L857.0 195.3 L855.0 195.6 L853.5 197.6 L851.8 198.8 L851.0 200.5 L847.5 201.6 L845.5 202.3 L843.0 203.3Z" fill="#6a9fcd"/>
<path d="M874.3 222.0 L877.7 222.0 L877.5 224.2 L876.0 224.7 L874.8 223.7 L874.3 222.0Z" fill="#6a9fcd"/>
<path d="M902.2 215.7 L904.0 217.7 L905.5 218.8 L907.9 219.0 L906.5 220.7 L904.8 222.8 L904.2 221.1 L903.3 220.5 L904.2 219.2 L904.0 218.0 L902.2 215.7Z" fill="#6ea4d1"/>
<path d="M902.2 221.7 L903.8 222.9 L902.2 225.0 L900.0 227.2 L898.0 227.8 L896.0 227.0 L898.0 225.2 L900.5 223.6 L902.2 221.7Z" fill="#6ea4d1"/>
<path d="M893.5 201.5 L896.0 203.1 L896.5 203.7 L894.5 202.8Z" fill="#92c0de"/>
</g>
<rect x="1158.2" y="47.3" width="17.2" height="17" rx="3" fill="#fff" stroke="#e6e6e6" stroke-width="0.8"/><rect x="1176.9" y="47.3" width="17.2" height="17" rx="3" fill="#fff" stroke="#e6e6e6" stroke-width="0.8"/><text x="1167" y="59.8" font-size="10.5" font-weight="bold" text-anchor="middle" class="mono" fill="#111">i</text><path d="M1182.6 58.9 L1184.9 56.6 M1186.3 55.2 L1188.6 52.9" stroke="#111" stroke-width="1.3" fill="none"/><path d="M1181.4 60.0 V56.4 L1185 60.0 Z M1189.8 51.8 V55.4 L1186.2 51.8 Z" fill="#111"/>
<rect x="1176.9" y="65.8" width="17.2" height="51.9" rx="3" fill="#fff" stroke="#e6e6e6" stroke-width="0.8"/><path d="M1176.9 83.3H1194.1M1176.9 100.6H1194.1" stroke="#e6e6e6" stroke-width="0.8"/>
<path d="M1181.4 75H1189.6M1185.5 70.9V79.1" stroke="#222" stroke-width="1.1"/>
<path d="M1181.4 109.3H1189.6" stroke="#222" stroke-width="1.1"/>
<g transform="translate(1185.5 92.4)" fill="#111" stroke="#111" stroke-width="1.1"><path d="M-4 -4L-1.6 -1.6M4 -4L1.6 -1.6M-4 4L-1.6 1.6M4 4L1.6 1.6" fill="none"/><path d="M-0.9 -3.4V-0.9H-3.4ZM0.9 -3.4V-0.9H3.4ZM-0.9 3.4V0.9H-3.4ZM0.9 3.4V0.9H3.4Z" stroke="none"/></g>
<circle cx="278.0" cy="249.7" r="4.75" fill="#313695" fill-opacity="0.3" stroke="#313695" stroke-opacity="0.18" stroke-width="0.7"/>
<circle cx="306.2" cy="249.7" r="4.75" fill="#37489e" fill-opacity="0.3" stroke="#37489e" stroke-opacity="0.18" stroke-width="0.7"/>
<circle cx="325.0" cy="249.7" r="4.75" fill="#3b55a4" fill-opacity="0.3" stroke="#3b55a4" stroke-opacity="0.18" stroke-width="0.7"/>
<circle cx="326.7" cy="249.7" r="4.75" fill="#3b56a5" fill-opacity="0.3" stroke="#3b56a5" stroke-opacity="0.18" stroke-width="0.7"/>
<circle cx="353.0" cy="249.7" r="4.75" fill="#4169ae" fill-opacity="0.3" stroke="#4169ae" stroke-opacity="0.18" stroke-width="0.7"/>
<circle cx="356.0" cy="249.7" r="4.75" fill="#426baf" fill-opacity="0.3" stroke="#426baf" stroke-opacity="0.18" stroke-width="0.7"/>
<circle cx="358.0" cy="249.7" r="4.75" fill="#426cb0" fill-opacity="0.3" stroke="#426cb0" stroke-opacity="0.18" stroke-width="0.7"/>
<circle cx="361.0" cy="249.7" r="4.75" fill="#436eb1" fill-opacity="0.3" stroke="#436eb1" stroke-opacity="0.18" stroke-width="0.7"/>
<circle cx="372.0" cy="249.7" r="4.75" fill="#4676b4" fill-opacity="0.3" stroke="#4676b4" stroke-opacity="0.18" stroke-width="0.7"/>
<circle cx="388.7" cy="249.7" r="4.75" fill="#4e80ba" fill-opacity="0.3" stroke="#4e80ba" stroke-opacity="0.18" stroke-width="0.7"/>
<circle cx="405.0" cy="249.7" r="4.75" fill="#578abf" fill-opacity="0.3" stroke="#578abf" stroke-opacity="0.18" stroke-width="0.7"/>
<circle cx="406.0" cy="249.7" r="4.75" fill="#578bbf" fill-opacity="0.3" stroke="#578bbf" stroke-opacity="0.18" stroke-width="0.7"/>
<circle cx="407.5" cy="249.7" r="4.75" fill="#588cc0" fill-opacity="0.3" stroke="#588cc0" stroke-opacity="0.18" stroke-width="0.7"/>
<circle cx="409.0" cy="249.7" r="4.75" fill="#598dc0" fill-opacity="0.3" stroke="#598dc0" stroke-opacity="0.18" stroke-width="0.7"/>
<circle cx="411.0" cy="249.7" r="4.75" fill="#5a8ec1" fill-opacity="0.3" stroke="#5a8ec1" stroke-opacity="0.18" stroke-width="0.7"/>
<circle cx="416.0" cy="249.7" r="4.75" fill="#5d91c3" fill-opacity="0.3" stroke="#5d91c3" stroke-opacity="0.18" stroke-width="0.7"/>
<circle cx="417.5" cy="249.7" r="4.75" fill="#5d92c3" fill-opacity="0.3" stroke="#5d92c3" stroke-opacity="0.18" stroke-width="0.7"/>
<circle cx="419.0" cy="249.7" r="4.75" fill="#5e93c3" fill-opacity="0.3" stroke="#5e93c3" stroke-opacity="0.18" stroke-width="0.7"/>
<circle cx="421.0" cy="249.7" r="4.75" fill="#5f94c4" fill-opacity="0.3" stroke="#5f94c4" stroke-opacity="0.18" stroke-width="0.7"/>
<circle cx="426.0" cy="249.7" r="4.75" fill="#6297c6" fill-opacity="0.3" stroke="#6297c6" stroke-opacity="0.18" stroke-width="0.7"/>
<circle cx="427.5" cy="249.7" r="4.75" fill="#6398c6" fill-opacity="0.3" stroke="#6398c6" stroke-opacity="0.18" stroke-width="0.7"/>
<circle cx="429.0" cy="249.7" r="4.75" fill="#6399c7" fill-opacity="0.3" stroke="#6399c7" stroke-opacity="0.18" stroke-width="0.7"/>
<circle cx="431.0" cy="249.7" r="4.75" fill="#649ac7" fill-opacity="0.3" stroke="#649ac7" stroke-opacity="0.18" stroke-width="0.7"/>
<circle cx="436.0" cy="249.7" r="4.75" fill="#679dc9" fill-opacity="0.3" stroke="#679dc9" stroke-opacity="0.18" stroke-width="0.7"/>
<circle cx="437.5" cy="249.7" r="4.75" fill="#689ec9" fill-opacity="0.3" stroke="#689ec9" stroke-opacity="0.18" stroke-width="0.7"/>
<circle cx="439.0" cy="249.7" r="4.75" fill="#689fca" fill-opacity="0.3" stroke="#689fca" stroke-opacity="0.18" stroke-width="0.7"/>
<circle cx="440.0" cy="249.7" r="4.75" fill="#69a0ca" fill-opacity="0.3" stroke="#69a0ca" stroke-opacity="0.18" stroke-width="0.7"/>
<circle cx="442.0" cy="249.7" r="4.75" fill="#6aa1cb" fill-opacity="0.3" stroke="#6aa1cb" stroke-opacity="0.18" stroke-width="0.7"/>
<circle cx="444.0" cy="249.7" r="4.75" fill="#6ba2cb" fill-opacity="0.3" stroke="#6ba2cb" stroke-opacity="0.18" stroke-width="0.7"/>
<circle cx="448.7" cy="249.7" r="4.75" fill="#6ea5cd" fill-opacity="0.3" stroke="#6ea5cd" stroke-opacity="0.18" stroke-width="0.7"/>
<circle cx="450.0" cy="249.7" r="4.75" fill="#6ea6cd" fill-opacity="0.3" stroke="#6ea6cd" stroke-opacity="0.18" stroke-width="0.7"/>
<circle cx="455.0" cy="249.7" r="4.75" fill="#71a9cf" fill-opacity="0.3" stroke="#71a9cf" stroke-opacity="0.18" stroke-width="0.7"/>
<circle cx="457.5" cy="249.7" r="4.75" fill="#72abd0" fill-opacity="0.3" stroke="#72abd0" stroke-opacity="0.18" stroke-width="0.7"/>
<circle cx="459.0" cy="249.7" r="4.75" fill="#73acd0" fill-opacity="0.3" stroke="#73acd0" stroke-opacity="0.18" stroke-width="0.7"/>
<circle cx="462.0" cy="249.7" r="4.75" fill="#74add1" fill-opacity="0.3" stroke="#74add1" stroke-opacity="0.18" stroke-width="0.7"/>
<circle cx="464.0" cy="249.7" r="4.75" fill="#76aed2" fill-opacity="0.3" stroke="#76aed2" stroke-opacity="0.18" stroke-width="0.7"/>
<circle cx="465.2" cy="249.7" r="4.75" fill="#76afd2" fill-opacity="0.3" stroke="#76afd2" stroke-opacity="0.18" stroke-width="0.7"/>
<circle cx="466.1" cy="249.7" r="4.75" fill="#77afd2" fill-opacity="0.3" stroke="#77afd2" stroke-opacity="0.18" stroke-width="0.7"/>
<circle cx="467.8" cy="249.7" r="4.75" fill="#78b0d3" fill-opacity="0.3" stroke="#78b0d3" stroke-opacity="0.18" stroke-width="0.7"/>
<circle cx="468.6" cy="249.7" r="4.75" fill="#78b1d3" fill-opacity="0.3" stroke="#78b1d3" stroke-opacity="0.18" stroke-width="0.7"/>
<circle cx="470.1" cy="249.7" r="4.75" fill="#79b1d3" fill-opacity="0.3" stroke="#79b1d3" stroke-opacity="0.18" stroke-width="0.7"/>
<circle cx="471.4" cy="249.7" r="4.75" fill="#7ab2d4" fill-opacity="0.3" stroke="#7ab2d4" stroke-opacity="0.18" stroke-width="0.7"/>
<circle cx="472.1" cy="249.7" r="4.75" fill="#7bb2d4" fill-opacity="0.3" stroke="#7bb2d4" stroke-opacity="0.18" stroke-width="0.7"/>
<circle cx="473.6" cy="249.7" r="4.75" fill="#7cb3d4" fill-opacity="0.3" stroke="#7cb3d4" stroke-opacity="0.18" stroke-width="0.7"/>
<circle cx="474.3" cy="249.7" r="4.75" fill="#7cb3d4" fill-opacity="0.3" stroke="#7cb3d4" stroke-opacity="0.18" stroke-width="0.7"/>
<circle cx="475.6" cy="249.7" r="4.75" fill="#7db4d5" fill-opacity="0.3" stroke="#7db4d5" stroke-opacity="0.18" stroke-width="0.7"/>
<circle cx="476.4" cy="249.7" r="4.75" fill="#7db4d5" fill-opacity="0.3" stroke="#7db4d5" stroke-opacity="0.18" stroke-width="0.7"/>
<circle cx="477.1" cy="249.7" r="4.75" fill="#7eb5d5" fill-opacity="0.3" stroke="#7eb5d5" stroke-opacity="0.18" stroke-width="0.7"/>
<circle cx="478.5" cy="249.7" r="4.75" fill="#7fb5d6" fill-opacity="0.3" stroke="#7fb5d6" stroke-opacity="0.18" stroke-width="0.7"/>
<circle cx="480.6" cy="249.7" r="4.75" fill="#80b6d6" fill-opacity="0.3" stroke="#80b6d6" stroke-opacity="0.18" stroke-width="0.7"/>
<circle cx="481.4" cy="249.7" r="4.75" fill="#80b7d6" fill-opacity="0.3" stroke="#80b7d6" stroke-opacity="0.18" stroke-width="0.7"/>
<circle cx="482.4" cy="249.7" r="4.75" fill="#81b7d7" fill-opacity="0.3" stroke="#81b7d7" stroke-opacity="0.18" stroke-width="0.7"/>
<circle cx="484.1" cy="249.7" r="4.75" fill="#82b8d7" fill-opacity="0.3" stroke="#82b8d7" stroke-opacity="0.18" stroke-width="0.7"/>
<circle cx="486.4" cy="249.7" r="4.75" fill="#83b9d8" fill-opacity="0.3" stroke="#83b9d8" stroke-opacity="0.18" stroke-width="0.7"/>
<circle cx="488.1" cy="249.7" r="4.75" fill="#84bad8" fill-opacity="0.3" stroke="#84bad8" stroke-opacity="0.18" stroke-width="0.7"/>
<circle cx="489.4" cy="249.7" r="4.75" fill="#85bbd8" fill-opacity="0.3" stroke="#85bbd8" stroke-opacity="0.18" stroke-width="0.7"/>
<circle cx="491.8" cy="249.7" r="4.75" fill="#87bcd9" fill-opacity="0.3" stroke="#87bcd9" stroke-opacity="0.18" stroke-width="0.7"/>
<circle cx="492.4" cy="249.7" r="4.75" fill="#87bcd9" fill-opacity="0.3" stroke="#87bcd9" stroke-opacity="0.18" stroke-width="0.7"/>
<circle cx="494.6" cy="249.7" r="4.75" fill="#88bdda" fill-opacity="0.3" stroke="#88bdda" stroke-opacity="0.18" stroke-width="0.7"/>
<circle cx="495.7" cy="249.7" r="4.75" fill="#89beda" fill-opacity="0.3" stroke="#89beda" stroke-opacity="0.18" stroke-width="0.7"/>
<circle cx="496.6" cy="249.7" r="4.75" fill="#89beda" fill-opacity="0.3" stroke="#89beda" stroke-opacity="0.18" stroke-width="0.7"/>
<circle cx="497.4" cy="249.7" r="4.75" fill="#8abfdb" fill-opacity="0.3" stroke="#8abfdb" stroke-opacity="0.18" stroke-width="0.7"/>
<circle cx="498.5" cy="249.7" r="4.75" fill="#8bbfdb" fill-opacity="0.3" stroke="#8bbfdb" stroke-opacity="0.18" stroke-width="0.7"/>
<circle cx="500.6" cy="249.7" r="4.75" fill="#8cc0db" fill-opacity="0.3" stroke="#8cc0db" stroke-opacity="0.18" stroke-width="0.7"/>
<circle cx="501.5" cy="249.7" r="4.75" fill="#8cc1dc" fill-opacity="0.3" stroke="#8cc1dc" stroke-opacity="0.18" stroke-width="0.7"/>
<circle cx="503.2" cy="249.7" r="4.75" fill="#8dc1dc" fill-opacity="0.3" stroke="#8dc1dc" stroke-opacity="0.18" stroke-width="0.7"/>
<circle cx="504.9" cy="249.7" r="4.75" fill="#8fc2dd" fill-opacity="0.3" stroke="#8fc2dd" stroke-opacity="0.18" stroke-width="0.7"/>
<circle cx="506.2" cy="249.7" r="4.75" fill="#8fc3dd" fill-opacity="0.3" stroke="#8fc3dd" stroke-opacity="0.18" stroke-width="0.7"/>
<circle cx="507.8" cy="249.7" r="4.75" fill="#90c4dd" fill-opacity="0.3" stroke="#90c4dd" stroke-opacity="0.18" stroke-width="0.7"/>
<circle cx="508.5" cy="249.7" r="4.75" fill="#91c4de" fill-opacity="0.3" stroke="#91c4de" stroke-opacity="0.18" stroke-width="0.7"/>
<circle cx="509.2" cy="249.7" r="4.75" fill="#91c4de" fill-opacity="0.3" stroke="#91c4de" stroke-opacity="0.18" stroke-width="0.7"/>
<circle cx="510.2" cy="249.7" r="4.75" fill="#92c5de" fill-opacity="0.3" stroke="#92c5de" stroke-opacity="0.18" stroke-width="0.7"/>
<circle cx="512.0" cy="249.7" r="4.75" fill="#93c6de" fill-opacity="0.3" stroke="#93c6de" stroke-opacity="0.18" stroke-width="0.7"/>
<circle cx="513.4" cy="249.7" r="4.75" fill="#94c6df" fill-opacity="0.3" stroke="#94c6df" stroke-opacity="0.18" stroke-width="0.7"/>
<circle cx="514.5" cy="249.7" r="4.75" fill="#94c7df" fill-opacity="0.3" stroke="#94c7df" stroke-opacity="0.18" stroke-width="0.7"/>
<circle cx="516.2" cy="249.7" r="4.75" fill="#95c8e0" fill-opacity="0.3" stroke="#95c8e0" stroke-opacity="0.18" stroke-width="0.7"/>
<circle cx="517.6" cy="249.7" r="4.75" fill="#96c8e0" fill-opacity="0.3" stroke="#96c8e0" stroke-opacity="0.18" stroke-width="0.7"/>
<circle cx="518.7" cy="249.7" r="4.75" fill="#97c9e0" fill-opacity="0.3" stroke="#97c9e0" stroke-opacity="0.18" stroke-width="0.7"/>
<circle cx="520.8" cy="249.7" r="4.75" fill="#98cae1" fill-opacity="0.3" stroke="#98cae1" stroke-opacity="0.18" stroke-width="0.7"/>
<circle cx="522.6" cy="249.7" r="4.75" fill="#99cbe1" fill-opacity="0.3" stroke="#99cbe1" stroke-opacity="0.18" stroke-width="0.7"/>
<circle cx="523.7" cy="249.7" r="4.75" fill="#9acbe2" fill-opacity="0.3" stroke="#9acbe2" stroke-opacity="0.18" stroke-width="0.7"/>
<circle cx="525.3" cy="249.7" r="4.75" fill="#9bcce2" fill-opacity="0.3" stroke="#9bcce2" stroke-opacity="0.18" stroke-width="0.7"/>
<circle cx="526.8" cy="249.7" r="4.75" fill="#9ccde2" fill-opacity="0.3" stroke="#9ccde2" stroke-opacity="0.18" stroke-width="0.7"/>
<circle cx="529.0" cy="249.7" r="4.75" fill="#9dcee3" fill-opacity="0.3" stroke="#9dcee3" stroke-opacity="0.18" stroke-width="0.7"/>
<circle cx="530.9" cy="249.7" r="4.75" fill="#9ecfe3" fill-opacity="0.3" stroke="#9ecfe3" stroke-opacity="0.18" stroke-width="0.7"/>
<circle cx="532.1" cy="249.7" r="4.75" fill="#9fcfe4" fill-opacity="0.3" stroke="#9fcfe4" stroke-opacity="0.18" stroke-width="0.7"/>
<circle cx="534.4" cy="249.7" r="4.75" fill="#a0d1e4" fill-opacity="0.3" stroke="#a0d1e4" stroke-opacity="0.18" stroke-width="0.7"/>
<circle cx="535.2" cy="249.7" r="4.75" fill="#a1d1e5" fill-opacity="0.3" stroke="#a1d1e5" stroke-opacity="0.18" stroke-width="0.7"/>
<circle cx="536.6" cy="249.7" r="4.75" fill="#a2d2e5" fill-opacity="0.3" stroke="#a2d2e5" stroke-opacity="0.18" stroke-width="0.7"/>
<circle cx="538.5" cy="249.7" r="4.75" fill="#a3d3e5" fill-opacity="0.3" stroke="#a3d3e5" stroke-opacity="0.18" stroke-width="0.7"/>
<circle cx="539.4" cy="249.7" r="4.75" fill="#a3d3e6" fill-opacity="0.3" stroke="#a3d3e6" stroke-opacity="0.18" stroke-width="0.7"/>
<circle cx="540.9" cy="249.7" r="4.75" fill="#a4d4e6" fill-opacity="0.3" stroke="#a4d4e6" stroke-opacity="0.18" stroke-width="0.7"/>
<circle cx="541.6" cy="249.7" r="4.75" fill="#a5d4e6" fill-opacity="0.3" stroke="#a5d4e6" stroke-opacity="0.18" stroke-width="0.7"/>
<circle cx="543.4" cy="249.7" r="4.75" fill="#a6d5e7" fill-opacity="0.3" stroke="#a6d5e7" stroke-opacity="0.18" stroke-width="0.7"/>
<circle cx="545.4" cy="249.7" r="4.75" fill="#a7d6e7" fill-opacity="0.3" stroke="#a7d6e7" stroke-opacity="0.18" stroke-width="0.7"/>
<circle cx="547.0" cy="249.7" r="4.75" fill="#a8d7e8" fill-opacity="0.3" stroke="#a8d7e8" stroke-opacity="0.18" stroke-width="0.7"/>
<circle cx="549.2" cy="249.7" r="4.75" fill="#a9d8e8" fill-opacity="0.3" stroke="#a9d8e8" stroke-opacity="0.18" stroke-width="0.7"/>
<circle cx="550.3" cy="249.7" r="4.75" fill="#aad8e9" fill-opacity="0.3" stroke="#aad8e9" stroke-opacity="0.18" stroke-width="0.7"/>
<circle cx="552.2" cy="249.7" r="4.75" fill="#abd9e9" fill-opacity="0.3" stroke="#abd9e9" stroke-opacity="0.18" stroke-width="0.7"/>
<circle cx="553.8" cy="249.7" r="4.75" fill="#acdae9" fill-opacity="0.3" stroke="#acdae9" stroke-opacity="0.18" stroke-width="0.7"/>
<circle cx="555.5" cy="249.7" r="4.75" fill="#addaea" fill-opacity="0.3" stroke="#addaea" stroke-opacity="0.18" stroke-width="0.7"/>
<circle cx="556.9" cy="249.7" r="4.75" fill="#aedaea" fill-opacity="0.3" stroke="#aedaea" stroke-opacity="0.18" stroke-width="0.7"/>
<circle cx="559.0" cy="249.7" r="4.75" fill="#afdbea" fill-opacity="0.3" stroke="#afdbea" stroke-opacity="0.18" stroke-width="0.7"/>
<circle cx="561.3" cy="249.7" r="4.75" fill="#b1dceb" fill-opacity="0.3" stroke="#b1dceb" stroke-opacity="0.18" stroke-width="0.7"/>
<circle cx="562.8" cy="249.7" r="4.75" fill="#b1dceb" fill-opacity="0.3" stroke="#b1dceb" stroke-opacity="0.18" stroke-width="0.7"/>
<circle cx="564.6" cy="249.7" r="4.75" fill="#b2ddeb" fill-opacity="0.3" stroke="#b2ddeb" stroke-opacity="0.18" stroke-width="0.7"/>
<circle cx="565.3" cy="249.7" r="4.75" fill="#b3ddeb" fill-opacity="0.3" stroke="#b3ddeb" stroke-opacity="0.18" stroke-width="0.7"/>
<circle cx="567.1" cy="249.7" r="4.75" fill="#b4ddec" fill-opacity="0.3" stroke="#b4ddec" stroke-opacity="0.18" stroke-width="0.7"/>
<circle cx="568.9" cy="249.7" r="4.75" fill="#b5deec" fill-opacity="0.3" stroke="#b5deec" stroke-opacity="0.18" stroke-width="0.7"/>
<circle cx="571.3" cy="249.7" r="4.75" fill="#b6dfec" fill-opacity="0.3" stroke="#b6dfec" stroke-opacity="0.18" stroke-width="0.7"/>
<circle cx="573.4" cy="249.7" r="4.75" fill="#b8dfed" fill-opacity="0.3" stroke="#b8dfed" stroke-opacity="0.18" stroke-width="0.7"/>
<circle cx="574.5" cy="249.7" r="4.75" fill="#b8e0ed" fill-opacity="0.3" stroke="#b8e0ed" stroke-opacity="0.18" stroke-width="0.7"/>
<circle cx="575.8" cy="249.7" r="4.75" fill="#b9e0ed" fill-opacity="0.3" stroke="#b9e0ed" stroke-opacity="0.18" stroke-width="0.7"/>
<circle cx="577.6" cy="249.7" r="4.75" fill="#bae0ed" fill-opacity="0.3" stroke="#bae0ed" stroke-opacity="0.18" stroke-width="0.7"/>
<circle cx="578.2" cy="249.7" r="4.75" fill="#bae1ed" fill-opacity="0.3" stroke="#bae1ed" stroke-opacity="0.18" stroke-width="0.7"/>
<circle cx="579.7" cy="249.7" r="4.75" fill="#bbe1ee" fill-opacity="0.3" stroke="#bbe1ee" stroke-opacity="0.18" stroke-width="0.7"/>
<circle cx="580.6" cy="249.7" r="4.75" fill="#bce1ee" fill-opacity="0.3" stroke="#bce1ee" stroke-opacity="0.18" stroke-width="0.7"/>
<circle cx="581.4" cy="249.7" r="4.75" fill="#bce1ee" fill-opacity="0.3" stroke="#bce1ee" stroke-opacity="0.18" stroke-width="0.7"/>
<circle cx="582.1" cy="249.7" r="4.75" fill="#bde2ee" fill-opacity="0.3" stroke="#bde2ee" stroke-opacity="0.18" stroke-width="0.7"/>
<circle cx="584.1" cy="249.7" r="4.75" fill="#bee2ee" fill-opacity="0.3" stroke="#bee2ee" stroke-opacity="0.18" stroke-width="0.7"/>
<circle cx="584.9" cy="249.7" r="4.75" fill="#bee2ee" fill-opacity="0.3" stroke="#bee2ee" stroke-opacity="0.18" stroke-width="0.7"/>
<circle cx="585.9" cy="249.7" r="4.75" fill="#bfe3ef" fill-opacity="0.3" stroke="#bfe3ef" stroke-opacity="0.18" stroke-width="0.7"/>
<circle cx="587.2" cy="249.7" r="4.75" fill="#c0e3ef" fill-opacity="0.3" stroke="#c0e3ef" stroke-opacity="0.18" stroke-width="0.7"/>
<circle cx="589.4" cy="249.7" r="4.75" fill="#c1e4ef" fill-opacity="0.3" stroke="#c1e4ef" stroke-opacity="0.18" stroke-width="0.7"/>
<circle cx="590.2" cy="249.7" r="4.75" fill="#c1e4ef" fill-opacity="0.3" stroke="#c1e4ef" stroke-opacity="0.18" stroke-width="0.7"/>
<circle cx="591.6" cy="249.7" r="4.75" fill="#c2e4f0" fill-opacity="0.3" stroke="#c2e4f0" stroke-opacity="0.18" stroke-width="0.7"/>
<circle cx="593.2" cy="249.7" r="4.75" fill="#c3e5f0" fill-opacity="0.3" stroke="#c3e5f0" stroke-opacity="0.18" stroke-width="0.7"/>
<circle cx="595.3" cy="249.7" r="4.75" fill="#c4e5f0" fill-opacity="0.3" stroke="#c4e5f0" stroke-opacity="0.18" stroke-width="0.7"/>
<circle cx="597.4" cy="249.7" r="4.75" fill="#c6e6f1" fill-opacity="0.3" stroke="#c6e6f1" stroke-opacity="0.18" stroke-width="0.7"/>
<circle cx="599.6" cy="249.7" r="4.75" fill="#c7e7f1" fill-opacity="0.3" stroke="#c7e7f1" stroke-opacity="0.18" stroke-width="0.7"/>
<circle cx="600.7" cy="249.7" r="4.75" fill="#c8e7f1" fill-opacity="0.3" stroke="#c8e7f1" stroke-opacity="0.18" stroke-width="0.7"/>
<circle cx="602.0" cy="249.7" r="4.75" fill="#c8e7f1" fill-opacity="0.3" stroke="#c8e7f1" stroke-opacity="0.18" stroke-width="0.7"/>
<circle cx="603.3" cy="249.7" r="4.75" fill="#c9e8f2" fill-opacity="0.3" stroke="#c9e8f2" stroke-opacity="0.18" stroke-width="0.7"/>
<circle cx="605.5" cy="249.7" r="4.75" fill="#cae8f2" fill-opacity="0.3" stroke="#cae8f2" stroke-opacity="0.18" stroke-width="0.7"/>
<circle cx="607.8" cy="249.7" r="4.75" fill="#cce9f2" fill-opacity="0.3" stroke="#cce9f2" stroke-opacity="0.18" stroke-width="0.7"/>
<circle cx="608.7" cy="249.7" r="4.75" fill="#cce9f2" fill-opacity="0.3" stroke="#cce9f2" stroke-opacity="0.18" stroke-width="0.7"/>
<circle cx="609.6" cy="249.7" r="4.75" fill="#cdeaf3" fill-opacity="0.3" stroke="#cdeaf3" stroke-opacity="0.18" stroke-width="0.7"/>
<circle cx="610.6" cy="249.7" r="4.75" fill="#cdeaf3" fill-opacity="0.3" stroke="#cdeaf3" stroke-opacity="0.18" stroke-width="0.7"/>
<circle cx="611.6" cy="249.7" r="4.75" fill="#ceeaf3" fill-opacity="0.3" stroke="#ceeaf3" stroke-opacity="0.18" stroke-width="0.7"/>
<circle cx="613.1" cy="249.7" r="4.75" fill="#cfebf3" fill-opacity="0.3" stroke="#cfebf3" stroke-opacity="0.18" stroke-width="0.7"/>
<circle cx="614.7" cy="249.7" r="4.75" fill="#d0ebf3" fill-opacity="0.3" stroke="#d0ebf3" stroke-opacity="0.18" stroke-width="0.7"/>
<circle cx="615.8" cy="249.7" r="4.75" fill="#d0ebf4" fill-opacity="0.3" stroke="#d0ebf4" stroke-opacity="0.18" stroke-width="0.7"/>
<circle cx="631.0" cy="249.7" r="4.75" fill="#d9f0f6" fill-opacity="0.3" stroke="#d9f0f6" stroke-opacity="0.18" stroke-width="0.7"/>
<circle cx="636.0" cy="249.7" r="4.75" fill="#dcf1f7" fill-opacity="0.3" stroke="#dcf1f7" stroke-opacity="0.18" stroke-width="0.7"/>
<circle cx="651.0" cy="249.7" r="4.75" fill="#e3f4f3" fill-opacity="0.3" stroke="#e3f4f3" stroke-opacity="0.18" stroke-width="0.7"/>
<circle cx="661.0" cy="249.7" r="4.75" fill="#e6f5ec" fill-opacity="0.3" stroke="#e6f5ec" stroke-opacity="0.18" stroke-width="0.7"/>
<circle cx="670.0" cy="249.7" r="4.75" fill="#e9f7e7" fill-opacity="0.3" stroke="#e9f7e7" stroke-opacity="0.18" stroke-width="0.7"/>
<circle cx="676.0" cy="249.7" r="4.75" fill="#ebf7e3" fill-opacity="0.3" stroke="#ebf7e3" stroke-opacity="0.18" stroke-width="0.7"/>
<circle cx="682.5" cy="249.7" r="4.75" fill="#eef8df" fill-opacity="0.3" stroke="#eef8df" stroke-opacity="0.18" stroke-width="0.7"/>
<circle cx="697.5" cy="249.7" r="4.75" fill="#f3fad5" fill-opacity="0.3" stroke="#f3fad5" stroke-opacity="0.18" stroke-width="0.7"/>
<circle cx="709.0" cy="249.7" r="4.75" fill="#f7fcce" fill-opacity="0.3" stroke="#f7fcce" stroke-opacity="0.18" stroke-width="0.7"/>
<circle cx="714.0" cy="249.7" r="4.75" fill="#f8fccb" fill-opacity="0.3" stroke="#f8fccb" stroke-opacity="0.18" stroke-width="0.7"/>
<circle cx="720.0" cy="249.7" r="4.75" fill="#fbfdc7" fill-opacity="0.3" stroke="#fbfdc7" stroke-opacity="0.18" stroke-width="0.7"/>
<circle cx="725.0" cy="249.7" r="4.75" fill="#fcfec4" fill-opacity="0.3" stroke="#fcfec4" stroke-opacity="0.18" stroke-width="0.7"/>
<circle cx="737.5" cy="249.7" r="4.75" fill="#fffdbd" fill-opacity="0.3" stroke="#fffdbd" stroke-opacity="0.18" stroke-width="0.7"/>
<circle cx="749.0" cy="249.7" r="4.75" fill="#fffab7" fill-opacity="0.3" stroke="#fffab7" stroke-opacity="0.18" stroke-width="0.7"/>
<circle cx="771.0" cy="249.7" r="4.75" fill="#fff2ab" fill-opacity="0.3" stroke="#fff2ab" stroke-opacity="0.18" stroke-width="0.7"/>
<circle cx="786.0" cy="249.7" r="4.75" fill="#feeda4" fill-opacity="0.3" stroke="#feeda4" stroke-opacity="0.18" stroke-width="0.7"/>
<circle cx="795.0" cy="249.7" r="4.75" fill="#feea9f" fill-opacity="0.3" stroke="#feea9f" stroke-opacity="0.18" stroke-width="0.7"/>
<circle cx="802.5" cy="249.7" r="4.75" fill="#fee79b" fill-opacity="0.3" stroke="#fee79b" stroke-opacity="0.18" stroke-width="0.7"/>
<circle cx="811.0" cy="249.7" r="4.75" fill="#fee497" fill-opacity="0.3" stroke="#fee497" stroke-opacity="0.18" stroke-width="0.7"/>
<circle cx="820.0" cy="249.7" r="4.75" fill="#fee192" fill-opacity="0.3" stroke="#fee192" stroke-opacity="0.18" stroke-width="0.7"/>
<circle cx="832.5" cy="249.7" r="4.75" fill="#fedb8b" fill-opacity="0.3" stroke="#fedb8b" stroke-opacity="0.18" stroke-width="0.7"/>
<circle cx="840.0" cy="249.7" r="4.75" fill="#fed787" fill-opacity="0.3" stroke="#fed787" stroke-opacity="0.18" stroke-width="0.7"/>
<circle cx="845.0" cy="249.7" r="4.75" fill="#fed485" fill-opacity="0.3" stroke="#fed485" stroke-opacity="0.18" stroke-width="0.7"/>
<circle cx="850.0" cy="249.7" r="4.75" fill="#fed182" fill-opacity="0.3" stroke="#fed182" stroke-opacity="0.18" stroke-width="0.7"/>
<circle cx="875.7" cy="249.7" r="4.75" fill="#fdc375" fill-opacity="0.3" stroke="#fdc375" stroke-opacity="0.18" stroke-width="0.7"/>
<circle cx="900.4" cy="249.7" r="4.75" fill="#fdb668" fill-opacity="0.3" stroke="#fdb668" stroke-opacity="0.18" stroke-width="0.7"/>
<circle cx="908.0" cy="249.7" r="4.75" fill="#fdb164" fill-opacity="0.3" stroke="#fdb164" stroke-opacity="0.18" stroke-width="0.7"/>
<circle cx="950.0" cy="249.7" r="4.75" fill="#f99455" fill-opacity="0.3" stroke="#f99455" stroke-opacity="0.18" stroke-width="0.7"/>
<circle cx="1032.0" cy="249.7" r="4.75" fill="#eb5b3b" fill-opacity="0.3" stroke="#eb5b3b" stroke-opacity="0.18" stroke-width="0.7"/>
<circle cx="1087.3" cy="249.7" r="4.75" fill="#da352a" fill-opacity="0.3" stroke="#da352a" stroke-opacity="0.18" stroke-width="0.7"/>
<circle cx="1132.0" cy="249.7" r="4.75" fill="#c31d27" fill-opacity="0.3" stroke="#c31d27" stroke-opacity="0.18" stroke-width="0.7"/>
<circle cx="1188.0" cy="249.7" r="4.75" fill="#a50026" fill-opacity="0.3" stroke="#a50026" stroke-opacity="0.18" stroke-width="0.7"/>
<rect x="273" y="256.5" width="7" height="16.5" rx="2" fill="#fff" stroke="#e4e4e4" stroke-width="0.6"/><path d="M275.6 262V268M277.4 262V268" stroke="#999" stroke-width="0.6"/>
<rect x="1186" y="256.5" width="7" height="16.5" rx="2" fill="#fff" stroke="#e4e4e4" stroke-width="0.6"/><path d="M1188.6 262V268M1190.4 262V268" stroke="#999" stroke-width="0.6"/>
<rect x="279.5" y="258.5" width="906.7" height="12.8" fill="url(#rybu)"/>
<path d="M278.5 276 V273.5 H1188 V276" fill="none" stroke="#555" stroke-width="0.9"/>
<path d="M346.7 273.5V276" stroke="#555" stroke-width="0.9"/>
<text x="346.7" y="284" font-size="7.6" text-anchor="middle" fill="#222" stroke="#222" stroke-width="0.18">20k</text>
<path d="M477.5 273.5V276" stroke="#555" stroke-width="0.9"/>
<text x="477.5" y="284" font-size="7.6" text-anchor="middle" fill="#222" stroke="#222" stroke-width="0.18">30k</text>
<path d="M608.3 273.5V276" stroke="#555" stroke-width="0.9"/>
<text x="608.3" y="284" font-size="7.6" text-anchor="middle" fill="#222" stroke="#222" stroke-width="0.18">40k</text>
<path d="M739.1 273.5V276" stroke="#555" stroke-width="0.9"/>
<text x="739.1" y="284" font-size="7.6" text-anchor="middle" fill="#222" stroke="#222" stroke-width="0.18">50k</text>
<path d="M869.9 273.5V276" stroke="#555" stroke-width="0.9"/>
<text x="869.9" y="284" font-size="7.6" text-anchor="middle" fill="#222" stroke="#222" stroke-width="0.18">60k</text>
<path d="M1000.7 273.5V276" stroke="#555" stroke-width="0.9"/>
<text x="1000.7" y="284" font-size="7.6" text-anchor="middle" fill="#222" stroke="#222" stroke-width="0.18">70k</text>
<path d="M1131.5 273.5V276" stroke="#555" stroke-width="0.9"/>
<text x="1131.5" y="284" font-size="7.6" text-anchor="middle" fill="#222" stroke="#222" stroke-width="0.18">80k</text>
<rect x="270" y="279" width="14" height="10" rx="2" fill="#fff"/><rect x="1182" y="279" width="15" height="10" rx="2" fill="#fff"/>
<text x="277" y="285.9" font-size="7.4" text-anchor="middle" fill="#222" stroke="#222" stroke-width="0.18">15k</text>
<text x="1189.5" y="285.9" font-size="7.4" text-anchor="middle" fill="#222" stroke="#222" stroke-width="0.18">84k</text>
</svg>
<svg class="abs" style="left:0;top:246px" width="935" height="247" viewBox="265 291 935 247">
<rect x="265" y="291.5" width="935" height="1" fill="#e9e9e9"/>
<text x="733" y="303.8" font-size="8.72" font-weight="bold" text-anchor="middle" fill="#222">Change in life expectancy at birth: Both sexes from 1990 - 2023 by broad cause group</text>
<text x="733" y="319" font-size="7.4" text-anchor="middle" fill="#555">Click on bar for more details</text>
<rect x="1158.2" y="295.6" width="17.2" height="17" rx="3" fill="#fff" stroke="#e6e6e6" stroke-width="0.8"/><rect x="1176.9" y="295.6" width="17.2" height="17" rx="3" fill="#fff" stroke="#e6e6e6" stroke-width="0.8"/><text x="1167" y="308.1" font-size="10.5" font-weight="bold" text-anchor="middle" class="mono" fill="#111">i</text><path d="M1182.6 307.2 L1184.9 304.9 M1186.3 303.5 L1188.6 301.2" stroke="#111" stroke-width="1.3" fill="none"/><path d="M1181.4 308.3 V304.7 L1185 308.3 Z M1189.8 300.1 V303.7 L1186.2 300.1 Z" fill="#111"/>
<path d="M321.3 341.2 H325 V513 H321.3" fill="none" stroke="#333" stroke-width="1.1"/>
<path d="M321.3 344.80 H325" stroke="#333" stroke-width="1"/>
<text x="319.5" y="347.30" font-size="7.6" text-anchor="end" fill="#111" stroke="#111" stroke-width="0.22">Angola</text>
<path d="M321.3 353.05 H325" stroke="#333" stroke-width="1"/>
<text x="319.5" y="355.55" font-size="7.6" text-anchor="end" fill="#111" stroke="#111" stroke-width="0.22">Ghana</text>
<path d="M321.3 361.30 H325" stroke="#333" stroke-width="1"/>
<text x="319.5" y="363.80" font-size="7.6" text-anchor="end" fill="#111" stroke="#111" stroke-width="0.22">India</text>
<path d="M321.3 369.55 H325" stroke="#333" stroke-width="1"/>
<text x="319.5" y="372.05" font-size="7.6" text-anchor="end" fill="#111" stroke="#111" stroke-width="0.22">Kenya</text>
<path d="M321.3 377.80 H325" stroke="#333" stroke-width="1"/>
<text x="319.5" y="380.30" font-size="7.6" text-anchor="end" fill="#111" stroke="#111" stroke-width="0.22">Egypt</text>
<path d="M321.3 386.05 H325" stroke="#333" stroke-width="1"/>
<text x="319.5" y="388.55" font-size="7.6" text-anchor="end" fill="#111" stroke="#111" stroke-width="0.22">Indonesia</text>
<path d="M321.3 394.30 H325" stroke="#333" stroke-width="1"/>
<text x="319.5" y="396.80" font-size="7.6" text-anchor="end" fill="#111" stroke="#111" stroke-width="0.22">China</text>
<path d="M321.3 402.55 H325" stroke="#333" stroke-width="1"/>
<text x="319.5" y="405.05" font-size="7.6" text-anchor="end" fill="#111" stroke="#111" stroke-width="0.22">Fiji</text>
<path d="M321.3 410.80 H325" stroke="#333" stroke-width="1"/>
<text x="319.5" y="413.30" font-size="7.6" text-anchor="end" fill="#111" stroke="#111" stroke-width="0.22">Kazakhstan</text>
<path d="M321.3 419.05 H325" stroke="#333" stroke-width="1"/>
<text x="319.5" y="421.55" font-size="7.6" text-anchor="end" fill="#111" stroke="#111" stroke-width="0.22">S. Africa</text>
<path d="M321.3 427.30 H325" stroke="#333" stroke-width="1"/>
<text x="319.5" y="429.80" font-size="7.6" text-anchor="end" fill="#111" stroke="#111" stroke-width="0.22">Brazil</text>
<path d="M321.3 435.55 H325" stroke="#333" stroke-width="1"/>
<text x="319.5" y="438.05" font-size="7.6" text-anchor="end" fill="#111" stroke="#111" stroke-width="0.22">Ukraine</text>
<path d="M321.3 443.80 H325" stroke="#333" stroke-width="1"/>
<text x="319.5" y="446.30" font-size="7.6" text-anchor="end" fill="#111" stroke="#111" stroke-width="0.22">Mexico</text>
<path d="M321.3 452.05 H325" stroke="#333" stroke-width="1"/>
<text x="319.5" y="454.55" font-size="7.6" text-anchor="end" fill="#111" stroke="#111" stroke-width="0.22">Poland</text>
<path d="M321.3 460.30 H325" stroke="#333" stroke-width="1"/>
<text x="319.5" y="462.80" font-size="7.6" text-anchor="end" fill="#111" stroke="#111" stroke-width="0.22">Argentina</text>
<path d="M321.3 468.55 H325" stroke="#333" stroke-width="1"/>
<text x="319.5" y="471.05" font-size="7.6" text-anchor="end" fill="#111" stroke="#111" stroke-width="0.22">Peru</text>
<path d="M321.3 476.80 H325" stroke="#333" stroke-width="1"/>
<text x="319.5" y="479.30" font-size="7.6" text-anchor="end" fill="#111" stroke="#111" stroke-width="0.22">Cuba</text>
<path d="M321.3 485.05 H325" stroke="#333" stroke-width="1"/>
<text x="319.5" y="487.55" font-size="7.6" text-anchor="end" fill="#111" stroke="#111" stroke-width="0.22">United States</text>
<path d="M321.3 493.30 H325" stroke="#333" stroke-width="1"/>
<text x="319.5" y="495.80" font-size="7.6" text-anchor="end" fill="#111" stroke="#111" stroke-width="0.22">Germany</text>
<path d="M321.3 501.55 H325" stroke="#333" stroke-width="1"/>
<text x="319.5" y="504.05" font-size="7.6" text-anchor="end" fill="#111" stroke="#111" stroke-width="0.22">Australia</text>
<path d="M321.3 509.80 H325" stroke="#333" stroke-width="1"/>
<text x="319.5" y="512.30" font-size="7.6" text-anchor="end" fill="#111" stroke="#111" stroke-width="0.22">Japan</text>
<path d="M327.5 519.3 V515.7 H1059.5 V519.3" fill="none" stroke="#444" stroke-width="1.1"/>
<path d="M375.5 515.7 V519.8" stroke="#444" stroke-width="1.1"/>
<text x="375.5" y="527.7" font-size="7.8" text-anchor="middle" fill="#222" stroke="#222" stroke-width="0.2">50</text>
<path d="M473.1 515.7 V519.8" stroke="#444" stroke-width="1.1"/>
<text x="473.1" y="527.7" font-size="7.8" text-anchor="middle" fill="#222" stroke="#222" stroke-width="0.2">55</text>
<path d="M570.8 515.7 V519.8" stroke="#444" stroke-width="1.1"/>
<text x="570.8" y="527.7" font-size="7.8" text-anchor="middle" fill="#222" stroke="#222" stroke-width="0.2">60</text>
<path d="M668.5 515.7 V519.8" stroke="#444" stroke-width="1.1"/>
<text x="668.5" y="527.7" font-size="7.8" text-anchor="middle" fill="#222" stroke="#222" stroke-width="0.2">65</text>
<path d="M766.1 515.7 V519.8" stroke="#444" stroke-width="1.1"/>
<text x="766.1" y="527.7" font-size="7.8" text-anchor="middle" fill="#222" stroke="#222" stroke-width="0.2">70</text>
<path d="M863.8 515.7 V519.8" stroke="#444" stroke-width="1.1"/>
<text x="863.8" y="527.7" font-size="7.8" text-anchor="middle" fill="#222" stroke="#222" stroke-width="0.2">75</text>
<path d="M961.4 515.7 V519.8" stroke="#444" stroke-width="1.1"/>
<text x="961.4" y="527.7" font-size="7.8" text-anchor="middle" fill="#222" stroke="#222" stroke-width="0.2">80</text>
<text x="1059.1" y="527.7" font-size="7.8" text-anchor="middle" fill="#222" stroke="#222" stroke-width="0.2">85</text>
<rect x="343.3" y="341.90" width="6.9" height="5.8" fill="#08306b"/>
<rect x="349.2" y="341.90" width="19.3" height="5.8" fill="#67000d"/>
<rect x="370.0" y="341.90" width="11.0" height="5.8" fill="#c7e9c0"/>
<rect x="380.0" y="341.90" width="11.8" height="5.8" fill="#41ab5d"/>
<rect x="390.8" y="341.90" width="3.2" height="5.8" fill="#00441b"/>
<rect x="393.0" y="341.90" width="3.0" height="5.8" fill="#eef4fb"/>
<rect x="395.0" y="341.90" width="10.0" height="5.8" fill="#1d69b0"/>
<rect x="404.0" y="341.90" width="5.0" height="5.8" fill="#1d69b0"/>
<rect x="408.0" y="341.90" width="9.7" height="5.8" fill="#08519c"/>
<rect x="416.7" y="341.90" width="11.0" height="5.8" fill="#fcbba1"/>
<rect x="426.7" y="341.90" width="29.3" height="5.8" fill="#fc9272"/>
<rect x="455.0" y="341.90" width="51.8" height="5.8" fill="#fb6a4a"/>
<rect x="505.8" y="341.90" width="36.4" height="5.8" fill="#ef3b2c"/>
<rect x="541.2" y="341.90" width="66.5" height="5.8" fill="#cb181d"/>
<rect x="606.7" y="341.90" width="73.6" height="5.8" fill="#a50f15"/>
<rect x="368.1" y="341.10" width="1.7" height="7.4" fill="#08141c"/>
<path d="M654.2 341.20 V348.50" stroke="#08141c" stroke-width="1.7" stroke-dasharray="2.7 1 3.7 0"/>
<rect x="481.0" y="350.15" width="3.3" height="5.8" fill="#00441b"/>
<rect x="483.3" y="350.15" width="1.9" height="5.8" fill="#c6dbef"/>
<rect x="484.2" y="350.15" width="5.1" height="5.8" fill="#6baed6"/>
<rect x="488.3" y="350.15" width="6.7" height="5.8" fill="#67000d"/>
<rect x="496.7" y="350.15" width="6.8" height="5.8" fill="#41ab5d"/>
<rect x="502.5" y="350.15" width="5.2" height="5.8" fill="#c6dbef"/>
<rect x="506.7" y="350.15" width="8.3" height="5.8" fill="#1d69b0"/>
<rect x="514.0" y="350.15" width="25.0" height="5.8" fill="#084594"/>
<rect x="538.0" y="350.15" width="9.7" height="5.8" fill="#fcbba1"/>
<rect x="546.7" y="350.15" width="23.0" height="5.8" fill="#fc9272"/>
<rect x="568.7" y="350.15" width="30.1" height="5.8" fill="#fb6a4a"/>
<rect x="597.8" y="350.15" width="31.0" height="5.8" fill="#ef3b2c"/>
<rect x="627.8" y="350.15" width="27.4" height="5.8" fill="#cb181d"/>
<rect x="654.2" y="350.15" width="37.0" height="5.8" fill="#a50f15"/>
<rect x="494.9" y="349.35" width="1.7" height="7.4" fill="#08141c"/>
<path d="M676.3 349.45 V356.75" stroke="#08141c" stroke-width="1.7" stroke-dasharray="2.7 1 3.7 0"/>
<rect x="532.8" y="358.40" width="5.2" height="5.8" fill="#6baed6"/>
<rect x="537.0" y="358.40" width="3.0" height="5.8" fill="#08306b"/>
<rect x="541.5" y="358.40" width="2.3" height="5.8" fill="#c7e9c0"/>
<rect x="542.8" y="358.40" width="11.5" height="5.8" fill="#41ab5d"/>
<rect x="553.3" y="358.40" width="4.0" height="5.8" fill="#eef4fb"/>
<rect x="556.3" y="358.40" width="18.0" height="5.8" fill="#1d69b0"/>
<rect x="573.3" y="358.40" width="14.4" height="5.8" fill="#084594"/>
<rect x="586.7" y="358.40" width="7.3" height="5.8" fill="#fcbba1"/>
<rect x="593.0" y="358.40" width="40.5" height="5.8" fill="#fc9272"/>
<rect x="632.5" y="358.40" width="36.0" height="5.8" fill="#fb6a4a"/>
<rect x="667.5" y="358.40" width="6.0" height="5.8" fill="#ef3b2c"/>
<rect x="672.5" y="358.40" width="79.3" height="5.8" fill="#cb181d"/>
<rect x="750.8" y="358.40" width="52.9" height="5.8" fill="#a50f15"/>
<rect x="539.6" y="357.60" width="1.7" height="7.4" fill="#08141c"/>
<path d="M796.2 357.70 V365.00" stroke="#08141c" stroke-width="1.7" stroke-dasharray="2.7 1 3.7 0"/>
<rect x="605.3" y="366.65" width="1.7" height="5.8" fill="#00441b"/>
<rect x="609.5" y="366.65" width="2.5" height="5.8" fill="#c7e9c0"/>
<rect x="611.0" y="366.65" width="10.0" height="5.8" fill="#41ab5d"/>
<rect x="620.0" y="366.65" width="2.3" height="5.8" fill="#eef4fb"/>
<rect x="621.3" y="366.65" width="4.7" height="5.8" fill="#1d69b0"/>
<rect x="625.0" y="366.65" width="6.5" height="5.8" fill="#084594"/>
<rect x="630.5" y="366.65" width="2.5" height="5.8" fill="#fcbba1"/>
<rect x="632.0" y="366.65" width="12.0" height="5.8" fill="#fc9272"/>
<rect x="643.0" y="366.65" width="20.0" height="5.8" fill="#fb6a4a"/>
<rect x="662.0" y="366.65" width="12.8" height="5.8" fill="#ef3b2c"/>
<rect x="673.8" y="366.65" width="57.5" height="5.8" fill="#cb181d"/>
<rect x="730.3" y="366.65" width="29.9" height="5.8" fill="#a50f15"/>
<rect x="759.2" y="366.65" width="8.8" height="5.8" fill="#67000d"/>
<rect x="607.4" y="365.85" width="1.7" height="7.4" fill="#08141c"/>
<path d="M764.7 365.95 V373.25" stroke="#08141c" stroke-width="1.7" stroke-dasharray="2.7 1 3.7 0"/>
<rect x="636.7" y="374.90" width="3.3" height="5.8" fill="#6baed6"/>
<rect x="639.0" y="374.90" width="4.7" height="5.8" fill="#08306b"/>
<rect x="645.3" y="374.90" width="4.7" height="5.8" fill="#41ab5d"/>
<rect x="649.0" y="374.90" width="4.5" height="5.8" fill="#eef4fb"/>
<rect x="652.5" y="374.90" width="24.3" height="5.8" fill="#1d69b0"/>
<rect x="675.8" y="374.90" width="6.9" height="5.8" fill="#08519c"/>
<rect x="681.7" y="374.90" width="14.0" height="5.8" fill="#fc9272"/>
<rect x="694.7" y="374.90" width="21.3" height="5.8" fill="#fb6a4a"/>
<rect x="715.0" y="374.90" width="22.7" height="5.8" fill="#cb181d"/>
<rect x="736.7" y="374.90" width="37.1" height="5.8" fill="#a50f15"/>
<rect x="643.6" y="374.10" width="1.7" height="7.4" fill="#08141c"/>
<path d="M766.0 374.20 V381.50" stroke="#08141c" stroke-width="1.7" stroke-dasharray="2.7 1 3.7 0"/>
<rect x="652.0" y="383.15" width="2.3" height="5.8" fill="#41ab5d"/>
<rect x="653.3" y="383.15" width="6.5" height="5.8" fill="#6baed6"/>
<rect x="658.8" y="383.15" width="8.7" height="5.8" fill="#08306b"/>
<rect x="668.7" y="383.15" width="3.6" height="5.8" fill="#41ab5d"/>
<rect x="671.3" y="383.15" width="3.5" height="5.8" fill="#eef4fb"/>
<rect x="673.8" y="383.15" width="14.7" height="5.8" fill="#1d69b0"/>
<rect x="687.5" y="383.15" width="13.2" height="5.8" fill="#08519c"/>
<rect x="699.7" y="383.15" width="6.0" height="5.8" fill="#fcbba1"/>
<rect x="704.7" y="383.15" width="21.3" height="5.8" fill="#fc9272"/>
<rect x="725.0" y="383.15" width="27.7" height="5.8" fill="#fb6a4a"/>
<rect x="751.7" y="383.15" width="46.8" height="5.8" fill="#cb181d"/>
<rect x="797.5" y="383.15" width="31.7" height="5.8" fill="#a50f15"/>
<rect x="667.1" y="382.35" width="1.7" height="7.4" fill="#08141c"/>
<path d="M813.7 382.45 V389.75" stroke="#08141c" stroke-width="1.7" stroke-dasharray="2.7 1 3.7 0"/>
<rect x="705.0" y="391.40" width="9.0" height="5.8" fill="#c7e9c0"/>
<rect x="713.0" y="391.40" width="14.3" height="5.8" fill="#41ab5d"/>
<rect x="726.3" y="391.40" width="14.2" height="5.8" fill="#00441b"/>
<rect x="739.5" y="391.40" width="10.7" height="5.8" fill="#c6dbef"/>
<rect x="749.2" y="391.40" width="7.3" height="5.8" fill="#6baed6"/>
<rect x="755.5" y="391.40" width="10.5" height="5.8" fill="#1d69b0"/>
<rect x="765.0" y="391.40" width="21.8" height="5.8" fill="#08519c"/>
<rect x="785.8" y="391.40" width="79.9" height="5.8" fill="#084594"/>
<rect x="864.7" y="391.40" width="35.0" height="5.8" fill="#08306b"/>
<rect x="898.7" y="391.40" width="25.3" height="5.8" fill="#fc9272"/>
<rect x="923.0" y="391.40" width="7.5" height="5.8" fill="#fb6a4a"/>
<rect x="929.5" y="391.40" width="6.5" height="5.8" fill="#cb181d"/>
<rect x="935.0" y="391.40" width="26.7" height="5.8" fill="#a50f15"/>
<rect x="702.9" y="390.60" width="1.7" height="7.4" fill="#08141c"/>
<path d="M962.0 390.70 V398.00" stroke="#08141c" stroke-width="1.7" stroke-dasharray="2.7 1 3.7 0"/>
<rect x="689.2" y="399.65" width="5.1" height="5.8" fill="#c6dbef"/>
<rect x="693.3" y="399.65" width="11.5" height="5.8" fill="#6baed6"/>
<rect x="703.8" y="399.65" width="8.5" height="5.8" fill="#08306b"/>
<rect x="711.3" y="399.65" width="2.5" height="5.8" fill="#cb181d"/>
<rect x="715.3" y="399.65" width="3.2" height="5.8" fill="#41ab5d"/>
<rect x="717.5" y="399.65" width="3.2" height="5.8" fill="#c7e9c0"/>
<rect x="719.7" y="399.65" width="12.1" height="5.8" fill="#08519c"/>
<rect x="730.8" y="399.65" width="5.2" height="5.8" fill="#084594"/>
<rect x="735.0" y="399.65" width="4.0" height="5.8" fill="#fc9272"/>
<rect x="738.0" y="399.65" width="3.8" height="5.8" fill="#fb6a4a"/>
<rect x="740.8" y="399.65" width="5.0" height="5.8" fill="#cb181d"/>
<rect x="713.6" y="398.85" width="1.7" height="7.4" fill="#08141c"/>
<path d="M720.5 398.95 V406.25" stroke="#08141c" stroke-width="1.7" stroke-dasharray="2.7 1 3.7 0"/>
<rect x="712.2" y="407.90" width="7.8" height="5.8" fill="#1d69b0"/>
<rect x="723.3" y="407.90" width="4.4" height="5.8" fill="#c7e9c0"/>
<rect x="726.7" y="407.90" width="15.5" height="5.8" fill="#41ab5d"/>
<rect x="741.2" y="407.90" width="8.1" height="5.8" fill="#00441b"/>
<rect x="748.3" y="407.90" width="2.7" height="5.8" fill="#eef4fb"/>
<rect x="750.0" y="407.90" width="3.0" height="5.8" fill="#6baed6"/>
<rect x="752.0" y="407.90" width="53.2" height="5.8" fill="#084594"/>
<rect x="804.2" y="407.90" width="33.5" height="5.8" fill="#08306b"/>
<rect x="836.7" y="407.90" width="7.6" height="5.8" fill="#fc9272"/>
<rect x="843.3" y="407.90" width="3.0" height="5.8" fill="#fb6a4a"/>
<rect x="845.3" y="407.90" width="7.4" height="5.8" fill="#cb181d"/>
<rect x="851.7" y="407.90" width="17.5" height="5.8" fill="#a50f15"/>
<rect x="719.9" y="407.10" width="1.7" height="7.4" fill="#08141c"/>
<path d="M860.8 407.20 V414.50" stroke="#08141c" stroke-width="1.7" stroke-dasharray="2.7 1 3.7 0"/>
<rect x="640.8" y="416.15" width="4.9" height="5.8" fill="#c6dbef"/>
<rect x="644.7" y="416.15" width="12.1" height="5.8" fill="#6baed6"/>
<rect x="655.8" y="416.15" width="3.2" height="5.8" fill="#1d69b0"/>
<rect x="658.0" y="416.15" width="6.8" height="5.8" fill="#08306b"/>
<rect x="663.8" y="416.15" width="56.7" height="5.8" fill="#67000d"/>
<rect x="722.5" y="416.15" width="3.2" height="5.8" fill="#c7e9c0"/>
<rect x="724.7" y="416.15" width="4.3" height="5.8" fill="#41ab5d"/>
<rect x="728.0" y="416.15" width="6.8" height="5.8" fill="#1d69b0"/>
<rect x="733.8" y="416.15" width="3.0" height="5.8" fill="#fcbba1"/>
<rect x="735.8" y="416.15" width="4.2" height="5.8" fill="#fc9272"/>
<rect x="739.0" y="416.15" width="4.5" height="5.8" fill="#fb6a4a"/>
<rect x="742.5" y="416.15" width="19.3" height="5.8" fill="#cb181d"/>
<rect x="760.8" y="416.15" width="18.0" height="5.8" fill="#a50f15"/>
<rect x="720.4" y="415.35" width="1.7" height="7.4" fill="#08141c"/>
<path d="M698.0 415.45 V422.75" stroke="#08141c" stroke-width="1.7" stroke-dasharray="2.7 1 3.7 0"/>
<rect x="753.8" y="424.40" width="4.2" height="5.8" fill="#c6dbef"/>
<rect x="760.3" y="424.40" width="3.7" height="5.8" fill="#41ab5d"/>
<rect x="763.0" y="424.40" width="7.2" height="5.8" fill="#00441b"/>
<rect x="769.2" y="424.40" width="3.5" height="5.8" fill="#c6dbef"/>
<rect x="771.7" y="424.40" width="12.6" height="5.8" fill="#1d69b0"/>
<rect x="783.3" y="424.40" width="60.2" height="5.8" fill="#084594"/>
<rect x="842.5" y="424.40" width="6.3" height="5.8" fill="#08306b"/>
<rect x="847.8" y="424.40" width="6.5" height="5.8" fill="#fcbba1"/>
<rect x="853.3" y="424.40" width="16.9" height="5.8" fill="#fc9272"/>
<rect x="869.2" y="424.40" width="4.8" height="5.8" fill="#fb6a4a"/>
<rect x="873.0" y="424.40" width="4.7" height="5.8" fill="#ef3b2c"/>
<rect x="876.7" y="424.40" width="19.3" height="5.8" fill="#cb181d"/>
<rect x="895.0" y="424.40" width="10.0" height="5.8" fill="#a50f15"/>
<rect x="758.4" y="423.60" width="1.7" height="7.4" fill="#08141c"/>
<path d="M899.5 423.70 V431.00" stroke="#08141c" stroke-width="1.7" stroke-dasharray="2.7 1 3.7 0"/>
<rect x="731.2" y="432.65" width="42.3" height="5.8" fill="#c7e9c0"/>
<rect x="772.5" y="432.65" width="3.3" height="5.8" fill="#a50f15"/>
<rect x="777.5" y="432.65" width="9.8" height="5.8" fill="#41ab5d"/>
<rect x="786.3" y="432.65" width="4.2" height="5.8" fill="#00441b"/>
<rect x="789.5" y="432.65" width="4.3" height="5.8" fill="#eef4fb"/>
<rect x="792.8" y="432.65" width="6.5" height="5.8" fill="#1d69b0"/>
<rect x="798.3" y="432.65" width="49.4" height="5.8" fill="#084594"/>
<rect x="846.7" y="432.65" width="9.8" height="5.8" fill="#08306b"/>
<rect x="855.5" y="432.65" width="5.0" height="5.8" fill="#fc9272"/>
<rect x="775.9" y="431.85" width="1.7" height="7.4" fill="#08141c"/>
<path d="M814.5 431.95 V439.25" stroke="#08141c" stroke-width="1.7" stroke-dasharray="2.7 1 3.7 0"/>
<rect x="774.7" y="440.90" width="5.5" height="5.8" fill="#c7e9c0"/>
<rect x="779.2" y="440.90" width="7.8" height="5.8" fill="#6baed6"/>
<rect x="789.0" y="440.90" width="9.5" height="5.8" fill="#41ab5d"/>
<rect x="797.5" y="440.90" width="8.5" height="5.8" fill="#00441b"/>
<rect x="805.0" y="440.90" width="4.3" height="5.8" fill="#6baed6"/>
<rect x="808.3" y="440.90" width="18.5" height="5.8" fill="#1d69b0"/>
<rect x="825.8" y="440.90" width="11.9" height="5.8" fill="#08519c"/>
<rect x="836.7" y="440.90" width="10.1" height="5.8" fill="#08306b"/>
<rect x="845.8" y="440.90" width="10.4" height="5.8" fill="#fcbba1"/>
<rect x="855.2" y="440.90" width="14.0" height="5.8" fill="#fc9272"/>
<rect x="868.2" y="440.90" width="4.0" height="5.8" fill="#fb6a4a"/>
<rect x="871.2" y="440.90" width="19.0" height="5.8" fill="#cb181d"/>
<rect x="889.2" y="440.90" width="13.2" height="5.8" fill="#a50f15"/>
<rect x="787.1" y="440.10" width="1.7" height="7.4" fill="#08141c"/>
<path d="M889.2 440.20 V447.50" stroke="#08141c" stroke-width="1.7" stroke-dasharray="2.7 1 3.7 0"/>
<rect x="780.8" y="449.15" width="2.7" height="5.8" fill="#6baed6"/>
<rect x="782.5" y="449.15" width="2.7" height="5.8" fill="#1d69b0"/>
<rect x="784.2" y="449.15" width="3.3" height="5.8" fill="#a50f15"/>
<rect x="790.0" y="449.15" width="3.2" height="5.8" fill="#c7e9c0"/>
<rect x="792.2" y="449.15" width="6.8" height="5.8" fill="#41ab5d"/>
<rect x="798.0" y="449.15" width="10.5" height="5.8" fill="#00441b"/>
<rect x="807.5" y="449.15" width="6.5" height="5.8" fill="#c6dbef"/>
<rect x="813.0" y="449.15" width="3.8" height="5.8" fill="#6baed6"/>
<rect x="815.8" y="449.15" width="6.9" height="5.8" fill="#1d69b0"/>
<rect x="821.7" y="449.15" width="91.5" height="5.8" fill="#084594"/>
<rect x="912.2" y="449.15" width="19.6" height="5.8" fill="#08306b"/>
<rect x="930.8" y="449.15" width="2.7" height="5.8" fill="#fcbba1"/>
<rect x="932.5" y="449.15" width="9.7" height="5.8" fill="#fc9272"/>
<rect x="787.9" y="448.35" width="1.7" height="7.4" fill="#08141c"/>
<path d="M934.2 448.45 V455.75" stroke="#08141c" stroke-width="1.7" stroke-dasharray="2.7 1 3.7 0"/>
<rect x="793.0" y="457.40" width="2.5" height="5.8" fill="#6baed6"/>
<rect x="794.5" y="457.40" width="15.8" height="5.8" fill="#a50f15"/>
<rect x="811.7" y="457.40" width="9.0" height="5.8" fill="#41ab5d"/>
<rect x="819.7" y="457.40" width="2.5" height="5.8" fill="#00441b"/>
<rect x="824.2" y="457.40" width="6.8" height="5.8" fill="#6baed6"/>
<rect x="830.0" y="457.40" width="9.3" height="5.8" fill="#1d69b0"/>
<rect x="838.3" y="457.40" width="55.7" height="5.8" fill="#084594"/>
<rect x="893.0" y="457.40" width="17.8" height="5.8" fill="#08306b"/>
<rect x="913.7" y="457.40" width="12.3" height="5.8" fill="#fc9272"/>
<rect x="925.0" y="457.40" width="3.5" height="5.8" fill="#fb6a4a"/>
<rect x="927.5" y="457.40" width="3.7" height="5.8" fill="#cb181d"/>
<rect x="809.9" y="456.60" width="1.7" height="7.4" fill="#08141c"/>
<path d="M912.5 456.70 V464.00" stroke="#08141c" stroke-width="1.7" stroke-dasharray="2.7 1 3.7 0"/>
<rect x="800.0" y="465.65" width="1.2" height="5.8" fill="#00441b"/>
<rect x="801.7" y="465.65" width="6.8" height="5.8" fill="#6baed6"/>
<rect x="807.5" y="465.65" width="5.2" height="5.8" fill="#1d69b0"/>
<rect x="811.7" y="465.65" width="8.3" height="5.8" fill="#08306b"/>
<rect x="822.0" y="465.65" width="2.7" height="5.8" fill="#c7e9c0"/>
<rect x="823.7" y="465.65" width="8.1" height="5.8" fill="#41ab5d"/>
<rect x="830.8" y="465.65" width="11.5" height="5.8" fill="#1d69b0"/>
<rect x="841.3" y="465.65" width="31.0" height="5.8" fill="#084594"/>
<rect x="871.3" y="465.65" width="8.9" height="5.8" fill="#fcbba1"/>
<rect x="879.2" y="465.65" width="21.8" height="5.8" fill="#fc9272"/>
<rect x="900.0" y="465.65" width="4.3" height="5.8" fill="#fb6a4a"/>
<rect x="903.3" y="465.65" width="16.5" height="5.8" fill="#cb181d"/>
<rect x="918.8" y="465.65" width="6.2" height="5.8" fill="#a50f15"/>
<rect x="819.9" y="464.85" width="1.7" height="7.4" fill="#08141c"/>
<path d="M903.8 464.95 V472.25" stroke="#08141c" stroke-width="1.7" stroke-dasharray="2.7 1 3.7 0"/>
<rect x="850.0" y="473.90" width="3.0" height="5.8" fill="#6baed6"/>
<rect x="852.0" y="473.90" width="4.0" height="5.8" fill="#1d69b0"/>
<rect x="855.0" y="473.90" width="7.3" height="5.8" fill="#08519c"/>
<rect x="861.3" y="473.90" width="7.9" height="5.8" fill="#a50f15"/>
<rect x="874.2" y="473.90" width="3.5" height="5.8" fill="#c7e9c0"/>
<rect x="876.7" y="473.90" width="8.8" height="5.8" fill="#00441b"/>
<rect x="887.8" y="473.90" width="37.4" height="5.8" fill="#084594"/>
<rect x="924.2" y="473.90" width="9.8" height="5.8" fill="#08519c"/>
<rect x="933.0" y="473.90" width="4.7" height="5.8" fill="#08306b"/>
<rect x="936.7" y="473.90" width="5.3" height="5.8" fill="#fc9272"/>
<rect x="941.0" y="473.90" width="3.0" height="5.8" fill="#fb6a4a"/>
<rect x="943.0" y="473.90" width="2.0" height="5.8" fill="#cb181d"/>
<rect x="868.9" y="473.10" width="1.7" height="7.4" fill="#08141c"/>
<path d="M924.5 473.20 V480.50" stroke="#08141c" stroke-width="1.7" stroke-dasharray="2.7 1 3.7 0"/>
<rect x="849.5" y="482.15" width="4.8" height="5.8" fill="#6baed6"/>
<rect x="853.3" y="482.15" width="18.0" height="5.8" fill="#4292c6"/>
<rect x="872.8" y="482.15" width="3.4" height="5.8" fill="#00441b"/>
<rect x="878.0" y="482.15" width="43.8" height="5.8" fill="#084594"/>
<rect x="920.8" y="482.15" width="25.9" height="5.8" fill="#08306b"/>
<rect x="945.7" y="482.15" width="2.8" height="5.8" fill="#fc9272"/>
<rect x="947.5" y="482.15" width="2.7" height="5.8" fill="#fb6a4a"/>
<rect x="949.2" y="482.15" width="5.4" height="5.8" fill="#67000d"/>
<rect x="871.1" y="481.35" width="1.7" height="7.4" fill="#08141c"/>
<path d="M931.2 481.45 V488.75" stroke="#08141c" stroke-width="1.7" stroke-dasharray="2.7 1 3.7 0"/>
<rect x="867.2" y="490.40" width="2.1" height="5.8" fill="#c7e9c0"/>
<rect x="868.3" y="490.40" width="3.2" height="5.8" fill="#1d69b0"/>
<rect x="870.5" y="490.40" width="2.5" height="5.8" fill="#cb181d"/>
<rect x="875.0" y="490.40" width="2.7" height="5.8" fill="#41ab5d"/>
<rect x="876.7" y="490.40" width="7.8" height="5.8" fill="#00441b"/>
<rect x="883.5" y="490.40" width="3.3" height="5.8" fill="#eef4fb"/>
<rect x="885.8" y="490.40" width="9.4" height="5.8" fill="#1d69b0"/>
<rect x="894.2" y="490.40" width="71.3" height="5.8" fill="#084594"/>
<rect x="964.5" y="490.40" width="18.5" height="5.8" fill="#08306b"/>
<rect x="982.0" y="490.40" width="3.2" height="5.8" fill="#fc9272"/>
<rect x="984.2" y="490.40" width="1.6" height="5.8" fill="#cb181d"/>
<rect x="872.9" y="489.60" width="1.7" height="7.4" fill="#08141c"/>
<path d="M978.8 489.70 V497.00" stroke="#08141c" stroke-width="1.7" stroke-dasharray="2.7 1 3.7 0"/>
<rect x="899.3" y="498.65" width="3.0" height="5.8" fill="#c7e9c0"/>
<rect x="901.3" y="498.65" width="8.4" height="5.8" fill="#00441b"/>
<rect x="908.7" y="498.65" width="4.8" height="5.8" fill="#c6dbef"/>
<rect x="912.5" y="498.65" width="10.2" height="5.8" fill="#1d69b0"/>
<rect x="921.7" y="498.65" width="82.3" height="5.8" fill="#084594"/>
<rect x="1003.0" y="498.65" width="28.5" height="5.8" fill="#08306b"/>
<rect x="1030.5" y="498.65" width="4.7" height="5.8" fill="#fc9272"/>
<rect x="1034.2" y="498.65" width="3.0" height="5.8" fill="#a50f15"/>
<rect x="897.1" y="497.85" width="1.7" height="7.4" fill="#08141c"/>
<path d="M1035.8 497.95 V505.25" stroke="#08141c" stroke-width="1.7" stroke-dasharray="2.7 1 3.7 0"/>
<rect x="940.3" y="506.90" width="2.0" height="5.8" fill="#c7e9c0"/>
<rect x="941.3" y="506.90" width="2.9" height="5.8" fill="#1d69b0"/>
<rect x="945.3" y="506.90" width="7.9" height="5.8" fill="#00441b"/>
<rect x="952.2" y="506.90" width="3.0" height="5.8" fill="#eef4fb"/>
<rect x="954.2" y="506.90" width="3.5" height="5.8" fill="#6baed6"/>
<rect x="956.7" y="506.90" width="7.6" height="5.8" fill="#1d69b0"/>
<rect x="963.3" y="506.90" width="49.4" height="5.8" fill="#084594"/>
<rect x="1011.7" y="506.90" width="17.3" height="5.8" fill="#08306b"/>
<rect x="1028.0" y="506.90" width="3.5" height="5.8" fill="#fc9272"/>
<rect x="1030.5" y="506.90" width="14.5" height="5.8" fill="#a50f15"/>
<rect x="943.6" y="506.10" width="1.7" height="7.4" fill="#08141c"/>
<path d="M1040.8 506.20 V513.50" stroke="#08141c" stroke-width="1.7" stroke-dasharray="2.7 1 3.7 0"/>
<rect x="1077.6" y="327.2" width="1.9" height="9.6" fill="#111"/>
<text x="1082" y="334.8" font-size="7.6" fill="#111" stroke="#111" stroke-width="0.15">Life expectancy 1990</text>
<path d="M1078.5 341.5 V350.5" stroke="#111" stroke-width="1.6" stroke-dasharray="1.8 1.4"/>
<text x="1082" y="348.8" font-size="7.6" fill="#111" stroke="#111" stroke-width="0.15">Life expectancy 2023</text>
<rect x="1077.6" y="355.2" width="1.9" height="9.6" fill="#c7e9c0"/>
<text x="1082" y="362.8" font-size="7.6" fill="#111" stroke="#111" stroke-width="0.15">Self-harm &amp; violence</text>
<rect x="1077.6" y="369.2" width="1.9" height="9.6" fill="#41ab5d"/>
<text x="1082" y="376.8" font-size="7.6" fill="#111" stroke="#111" stroke-width="0.15">Unintentional inj</text>
<rect x="1077.6" y="383.2" width="1.9" height="9.6" fill="#00441b"/>
<text x="1082" y="390.8" font-size="7.6" fill="#111" stroke="#111" stroke-width="0.15">Transport injuries</text>
<rect x="1077.6" y="397.2" width="1.9" height="9.6" fill="#c6dbef"/>
<text x="1082" y="404.8" font-size="7.6" fill="#111" stroke="#111" stroke-width="0.15">Other non-communicable</text>
<rect x="1077.6" y="411.2" width="1.9" height="9.6" fill="#9ecae1"/>
<text x="1082" y="418.8" font-size="7.6" fill="#111" stroke="#111" stroke-width="0.15">Musculoskeletal disorders</text>
<rect x="1077.6" y="425.2" width="1.9" height="9.6" fill="#6baed6"/>
<text x="1082" y="432.8" font-size="7.6" fill="#111" stroke="#111" stroke-width="0.15">Skin diseases</text>
<rect x="1077.6" y="439.2" width="1.9" height="9.6" fill="#4e9acb"/>
<text x="1082" y="446.8" font-size="7.6" fill="#111" stroke="#111" stroke-width="0.15">Diabetes &amp; CKD</text>
<rect x="1077.6" y="453.2" width="1.9" height="9.6" fill="#4292c6"/>
<text x="1082" y="460.8" font-size="7.6" fill="#111" stroke="#111" stroke-width="0.15">Substance use</text>
<rect x="1077.6" y="467.2" width="1.9" height="9.6" fill="#2f7dbd"/>
<text x="1082" y="474.8" font-size="7.6" fill="#111" stroke="#111" stroke-width="0.15">Mental disorders</text>
<rect x="1077.6" y="481.2" width="1.9" height="9.6" fill="#2171b5"/>
<text x="1082" y="488.8" font-size="7.6" fill="#111" stroke="#111" stroke-width="0.15">Neurological disorders</text>
<rect x="1077.6" y="495.2" width="1.9" height="9.6" fill="#1460a8"/>
<text x="1082" y="502.8" font-size="7.6" fill="#111" stroke="#111" stroke-width="0.15">Digestive diseases</text>
<rect x="1077.6" y="509.2" width="1.9" height="9.6" fill="#08519c"/>
<text x="1082" y="516.8" font-size="7.6" fill="#111" stroke="#111" stroke-width="0.15">Chronic respiratory</text>
<rect x="1077.6" y="523.2" width="1.9" height="9.6" fill="#084594"/>
<text x="1082" y="530.8" font-size="7.6" fill="#111" stroke="#111" stroke-width="0.15">Cardiovascular diseases</text>
<rect x="1077.6" y="537.2" width="1.9" height="9.6" fill="#08306b"/>
<text x="1082" y="544.8" font-size="7.6" fill="#111" stroke="#111" stroke-width="0.15">Neoplasms</text>
<rect x="1188" y="319" width="12" height="219" fill="#fafafa"/><rect x="1190" y="323" width="7" height="141" rx="3.5" fill="#c1c1c1"/>
</svg>
</div>
</body></html>
